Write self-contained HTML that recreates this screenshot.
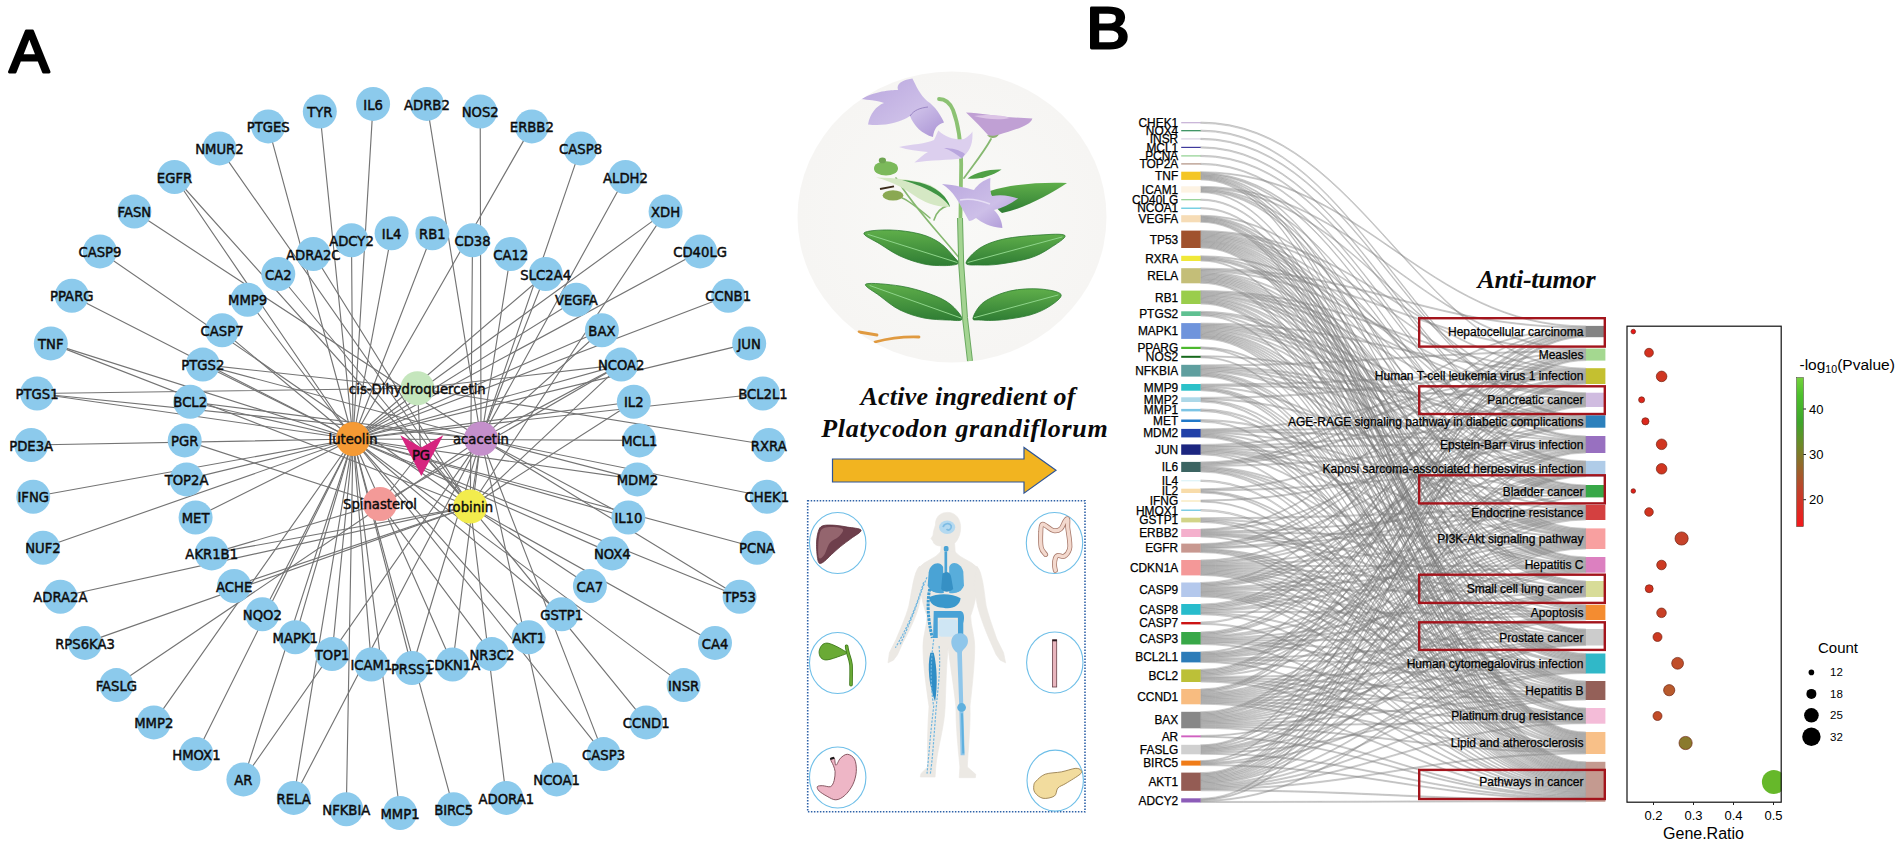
<!DOCTYPE html>
<html><head><meta charset="utf-8"><title>Figure</title>
<style>html,body{margin:0;padding:0;background:#fff;}svg{display:block}</style></head>
<body>
<svg width="1901" height="849" viewBox="0 0 1901 849">
<rect width="1901" height="849" fill="#fff"/>
<g id="network">
<g stroke="#747474" stroke-width="1.15" fill="none" stroke-linecap="round">
<line x1="353" y1="439" x2="400.0" y2="813.0"/>
<line x1="353" y1="439" x2="346.3" y2="809.2"/>
<line x1="353" y1="439" x2="293.7" y2="797.9"/>
<line x1="353" y1="439" x2="243.4" y2="779.4"/>
<line x1="353" y1="439" x2="196.4" y2="754.1"/>
<line x1="353" y1="439" x2="153.8" y2="722.4"/>
<line x1="353" y1="439" x2="43.0" y2="547.8"/>
<line x1="353" y1="439" x2="33.2" y2="496.8"/>
<line x1="353" y1="439" x2="31.2" y2="445.0"/>
<line x1="353" y1="439" x2="37.1" y2="393.5"/>
<line x1="353" y1="439" x2="50.8" y2="343.4"/>
<line x1="353" y1="439" x2="71.8" y2="295.7"/>
<line x1="353" y1="439" x2="174.5" y2="177.0"/>
<line x1="353" y1="439" x2="268.2" y2="126.4"/>
<line x1="353" y1="439" x2="319.8" y2="111.5"/>
<line x1="353" y1="439" x2="373.1" y2="103.9"/>
<line x1="353" y1="439" x2="531.8" y2="126.4"/>
<line x1="353" y1="439" x2="665.6" y2="211.6"/>
<line x1="353" y1="439" x2="700.1" y2="251.4"/>
<line x1="353" y1="439" x2="728.2" y2="295.7"/>
<line x1="353" y1="439" x2="749.2" y2="343.4"/>
<line x1="353" y1="439" x2="762.9" y2="393.5"/>
<line x1="353" y1="439" x2="757.0" y2="547.8"/>
<line x1="353" y1="439" x2="739.6" y2="596.8"/>
<line x1="353" y1="439" x2="683.6" y2="685.1"/>
<line x1="353" y1="439" x2="603.6" y2="754.1"/>
<line x1="353" y1="439" x2="453.7" y2="809.2"/>
<line x1="353" y1="439" x2="412.0" y2="668.0"/>
<line x1="353" y1="439" x2="371.4" y2="664.5"/>
<line x1="353" y1="439" x2="332.1" y2="654.1"/>
<line x1="353" y1="439" x2="295.3" y2="637.2"/>
<line x1="353" y1="439" x2="262.3" y2="614.2"/>
<line x1="353" y1="439" x2="195.6" y2="517.5"/>
<line x1="353" y1="439" x2="186.6" y2="479.4"/>
<line x1="353" y1="439" x2="190.2" y2="401.7"/>
<line x1="353" y1="439" x2="202.8" y2="364.6"/>
<line x1="353" y1="439" x2="222.1" y2="330.2"/>
<line x1="353" y1="439" x2="247.6" y2="299.7"/>
<line x1="353" y1="439" x2="351.5" y2="240.2"/>
<line x1="353" y1="439" x2="391.6" y2="233.3"/>
<line x1="353" y1="439" x2="432.4" y2="233.3"/>
<line x1="353" y1="439" x2="545.7" y2="274.0"/>
<line x1="353" y1="439" x2="576.4" y2="299.7"/>
<line x1="353" y1="439" x2="601.9" y2="330.2"/>
<line x1="353" y1="439" x2="621.2" y2="364.6"/>
<line x1="353" y1="439" x2="633.8" y2="401.7"/>
<line x1="353" y1="439" x2="639.3" y2="440.4"/>
<line x1="353" y1="439" x2="637.4" y2="479.4"/>
<line x1="353" y1="439" x2="628.4" y2="517.5"/>
<line x1="353" y1="439" x2="612.3" y2="553.4"/>
<line x1="353" y1="439" x2="561.7" y2="614.2"/>
<line x1="353" y1="439" x2="528.7" y2="637.2"/>
<line x1="353" y1="439" x2="452.6" y2="664.5"/>
<line x1="417.4" y1="388.3" x2="202.8" y2="364.6"/>
<line x1="417.4" y1="388.3" x2="621.2" y2="364.6"/>
<line x1="417.4" y1="388.3" x2="37.1" y2="393.5"/>
<line x1="417.4" y1="388.3" x2="768.8" y2="445.0"/>
<line x1="481" y1="438.8" x2="426.9" y2="103.9"/>
<line x1="481" y1="438.8" x2="480.2" y2="111.5"/>
<line x1="481" y1="438.8" x2="580.6" y2="148.4"/>
<line x1="481" y1="438.8" x2="625.5" y2="177.0"/>
<line x1="481" y1="438.8" x2="134.4" y2="211.6"/>
<line x1="481" y1="438.8" x2="545.7" y2="274.0"/>
<line x1="481" y1="438.8" x2="766.8" y2="496.8"/>
<line x1="481" y1="438.8" x2="556.6" y2="779.4"/>
<line x1="481" y1="438.8" x2="37.1" y2="393.5"/>
<line x1="481" y1="438.8" x2="202.8" y2="364.6"/>
<line x1="481" y1="438.8" x2="190.2" y2="401.7"/>
<line x1="481" y1="438.8" x2="116.4" y2="685.1"/>
<line x1="481" y1="438.8" x2="243.4" y2="779.4"/>
<line x1="481" y1="438.8" x2="293.7" y2="797.9"/>
<line x1="481" y1="438.8" x2="739.6" y2="596.8"/>
<line x1="481" y1="438.8" x2="603.6" y2="754.1"/>
<line x1="481" y1="438.8" x2="601.9" y2="330.2"/>
<line x1="481" y1="438.8" x2="621.2" y2="364.6"/>
<line x1="481" y1="438.8" x2="412.0" y2="668.0"/>
<line x1="481" y1="438.8" x2="452.6" y2="664.5"/>
<line x1="481" y1="438.8" x2="637.4" y2="479.4"/>
<line x1="481" y1="438.8" x2="628.4" y2="517.5"/>
<line x1="470.3" y1="506.5" x2="219.4" y2="148.4"/>
<line x1="470.3" y1="506.5" x2="99.9" y2="251.4"/>
<line x1="470.3" y1="506.5" x2="510.7" y2="254.0"/>
<line x1="470.3" y1="506.5" x2="278.3" y2="274.0"/>
<line x1="470.3" y1="506.5" x2="715.0" y2="642.9"/>
<line x1="470.3" y1="506.5" x2="589.9" y2="586.0"/>
<line x1="470.3" y1="506.5" x2="665.6" y2="211.6"/>
<line x1="470.3" y1="506.5" x2="313.3" y2="254.0"/>
<line x1="470.3" y1="506.5" x2="472.5" y2="240.2"/>
<line x1="470.3" y1="506.5" x2="85.0" y2="642.9"/>
<line x1="470.3" y1="506.5" x2="60.4" y2="596.8"/>
<line x1="470.3" y1="506.5" x2="50.8" y2="343.4"/>
<line x1="470.3" y1="506.5" x2="234.1" y2="586.0"/>
<line x1="470.3" y1="506.5" x2="211.7" y2="553.4"/>
<line x1="470.3" y1="506.5" x2="506.3" y2="797.9"/>
<line x1="470.3" y1="506.5" x2="646.2" y2="722.4"/>
<line x1="470.3" y1="506.5" x2="174.5" y2="177.0"/>
<line x1="470.3" y1="506.5" x2="621.2" y2="364.6"/>
<line x1="470.3" y1="506.5" x2="633.8" y2="401.7"/>
<line x1="380" y1="504" x2="491.9" y2="654.1"/>
<line x1="380" y1="504" x2="184.7" y2="440.4"/>
<line x1="380" y1="504" x2="621.2" y2="364.6"/>
<line x1="380" y1="504" x2="211.7" y2="553.4"/>
<line x1="420.7" y1="452" x2="353" y2="439"/>
<line x1="420.7" y1="452" x2="417.4" y2="388.3"/>
<line x1="420.7" y1="452" x2="481" y2="438.8"/>
<line x1="420.7" y1="452" x2="470.3" y2="506.5"/>
<line x1="420.7" y1="452" x2="380" y2="504"/>
</g>
<circle cx="353" cy="439" r="17" fill="#f59a34"/>
<circle cx="417.4" cy="388.3" r="17" fill="#c5e6bd"/>
<circle cx="481" cy="438.8" r="17" fill="#c48fcb"/>
<circle cx="470.3" cy="506.5" r="17" fill="#f2ec4d"/>
<circle cx="380" cy="504" r="17" fill="#f39a98"/>
<path d="M400.3 435.3 L421.3 447.6 L443.3 435.3 L421.3 476.1 Z" fill="#d6257f"/>
<g font-family="'DejaVu Sans','Liberation Sans',sans-serif" font-size="13.2" text-anchor="middle" fill="#0c0c0c" stroke="#0c0c0c" stroke-width="0.45">
<circle cx="452.6" cy="664.5" r="17" fill="#8ccaec" stroke="none"/><text x="452.6" y="670.1">CDKN1A</text>
<circle cx="313.3" cy="254.0" r="17" fill="#8ccaec" stroke="none"/><text x="313.3" y="259.6">ADRA2C</text>
<circle cx="400.0" cy="813.0" r="17" fill="#8ccaec" stroke="none"/><text x="400.0" y="818.6">MMP1</text>
<circle cx="346.3" cy="809.2" r="17" fill="#8ccaec" stroke="none"/><text x="346.3" y="814.8">NFKBIA</text>
<circle cx="293.7" cy="797.9" r="17" fill="#8ccaec" stroke="none"/><text x="293.7" y="803.5">RELA</text>
<circle cx="243.4" cy="779.4" r="17" fill="#8ccaec" stroke="none"/><text x="243.4" y="785.0">AR</text>
<circle cx="196.4" cy="754.1" r="17" fill="#8ccaec" stroke="none"/><text x="196.4" y="759.7">HMOX1</text>
<circle cx="153.8" cy="722.4" r="17" fill="#8ccaec" stroke="none"/><text x="153.8" y="728.0">MMP2</text>
<circle cx="116.4" cy="685.1" r="17" fill="#8ccaec" stroke="none"/><text x="116.4" y="690.7">FASLG</text>
<circle cx="85.0" cy="642.9" r="17" fill="#8ccaec" stroke="none"/><text x="85.0" y="648.5">RPS6KA3</text>
<circle cx="60.4" cy="596.8" r="17" fill="#8ccaec" stroke="none"/><text x="60.4" y="602.4">ADRA2A</text>
<circle cx="43.0" cy="547.8" r="17" fill="#8ccaec" stroke="none"/><text x="43.0" y="553.4">NUF2</text>
<circle cx="33.2" cy="496.8" r="17" fill="#8ccaec" stroke="none"/><text x="33.2" y="502.4">IFNG</text>
<circle cx="31.2" cy="445.0" r="17" fill="#8ccaec" stroke="none"/><text x="31.2" y="450.6">PDE3A</text>
<circle cx="37.1" cy="393.5" r="17" fill="#8ccaec" stroke="none"/><text x="37.1" y="399.1">PTGS1</text>
<circle cx="50.8" cy="343.4" r="17" fill="#8ccaec" stroke="none"/><text x="50.8" y="349.0">TNF</text>
<circle cx="71.8" cy="295.7" r="17" fill="#8ccaec" stroke="none"/><text x="71.8" y="301.3">PPARG</text>
<circle cx="99.9" cy="251.4" r="17" fill="#8ccaec" stroke="none"/><text x="99.9" y="257.0">CASP9</text>
<circle cx="134.4" cy="211.6" r="17" fill="#8ccaec" stroke="none"/><text x="134.4" y="217.2">FASN</text>
<circle cx="174.5" cy="177.0" r="17" fill="#8ccaec" stroke="none"/><text x="174.5" y="182.6">EGFR</text>
<circle cx="219.4" cy="148.4" r="17" fill="#8ccaec" stroke="none"/><text x="219.4" y="154.0">NMUR2</text>
<circle cx="268.2" cy="126.4" r="17" fill="#8ccaec" stroke="none"/><text x="268.2" y="132.0">PTGES</text>
<circle cx="319.8" cy="111.5" r="17" fill="#8ccaec" stroke="none"/><text x="319.8" y="117.1">TYR</text>
<circle cx="373.1" cy="103.9" r="17" fill="#8ccaec" stroke="none"/><text x="373.1" y="109.5">IL6</text>
<circle cx="426.9" cy="103.9" r="17" fill="#8ccaec" stroke="none"/><text x="426.9" y="109.5">ADRB2</text>
<circle cx="480.2" cy="111.5" r="17" fill="#8ccaec" stroke="none"/><text x="480.2" y="117.1">NOS2</text>
<circle cx="531.8" cy="126.4" r="17" fill="#8ccaec" stroke="none"/><text x="531.8" y="132.0">ERBB2</text>
<circle cx="580.6" cy="148.4" r="17" fill="#8ccaec" stroke="none"/><text x="580.6" y="154.0">CASP8</text>
<circle cx="625.5" cy="177.0" r="17" fill="#8ccaec" stroke="none"/><text x="625.5" y="182.6">ALDH2</text>
<circle cx="665.6" cy="211.6" r="17" fill="#8ccaec" stroke="none"/><text x="665.6" y="217.2">XDH</text>
<circle cx="700.1" cy="251.4" r="17" fill="#8ccaec" stroke="none"/><text x="700.1" y="257.0">CD40LG</text>
<circle cx="728.2" cy="295.7" r="17" fill="#8ccaec" stroke="none"/><text x="728.2" y="301.3">CCNB1</text>
<circle cx="749.2" cy="343.4" r="17" fill="#8ccaec" stroke="none"/><text x="749.2" y="349.0">JUN</text>
<circle cx="762.9" cy="393.5" r="17" fill="#8ccaec" stroke="none"/><text x="762.9" y="399.1">BCL2L1</text>
<circle cx="768.8" cy="445.0" r="17" fill="#8ccaec" stroke="none"/><text x="768.8" y="450.6">RXRA</text>
<circle cx="766.8" cy="496.8" r="17" fill="#8ccaec" stroke="none"/><text x="766.8" y="502.4">CHEK1</text>
<circle cx="757.0" cy="547.8" r="17" fill="#8ccaec" stroke="none"/><text x="757.0" y="553.4">PCNA</text>
<circle cx="739.6" cy="596.8" r="17" fill="#8ccaec" stroke="none"/><text x="739.6" y="602.4">TP53</text>
<circle cx="715.0" cy="642.9" r="17" fill="#8ccaec" stroke="none"/><text x="715.0" y="648.5">CA4</text>
<circle cx="683.6" cy="685.1" r="17" fill="#8ccaec" stroke="none"/><text x="683.6" y="690.7">INSR</text>
<circle cx="646.2" cy="722.4" r="17" fill="#8ccaec" stroke="none"/><text x="646.2" y="728.0">CCND1</text>
<circle cx="603.6" cy="754.1" r="17" fill="#8ccaec" stroke="none"/><text x="603.6" y="759.7">CASP3</text>
<circle cx="556.6" cy="779.4" r="17" fill="#8ccaec" stroke="none"/><text x="556.6" y="785.0">NCOA1</text>
<circle cx="506.3" cy="797.9" r="17" fill="#8ccaec" stroke="none"/><text x="506.3" y="803.5">ADORA1</text>
<circle cx="453.7" cy="809.2" r="17" fill="#8ccaec" stroke="none"/><text x="453.7" y="814.8">BIRC5</text>
<circle cx="412.0" cy="668.0" r="17" fill="#8ccaec" stroke="none"/><text x="412.0" y="673.6">PRSS1</text>
<circle cx="371.4" cy="664.5" r="17" fill="#8ccaec" stroke="none"/><text x="371.4" y="670.1">ICAM1</text>
<circle cx="332.1" cy="654.1" r="17" fill="#8ccaec" stroke="none"/><text x="332.1" y="659.7">TOP1</text>
<circle cx="295.3" cy="637.2" r="17" fill="#8ccaec" stroke="none"/><text x="295.3" y="642.8">MAPK1</text>
<circle cx="262.3" cy="614.2" r="17" fill="#8ccaec" stroke="none"/><text x="262.3" y="619.8">NQO2</text>
<circle cx="234.1" cy="586.0" r="17" fill="#8ccaec" stroke="none"/><text x="234.1" y="591.6">ACHE</text>
<circle cx="211.7" cy="553.4" r="17" fill="#8ccaec" stroke="none"/><text x="211.7" y="559.0">AKR1B1</text>
<circle cx="195.6" cy="517.5" r="17" fill="#8ccaec" stroke="none"/><text x="195.6" y="523.1">MET</text>
<circle cx="186.6" cy="479.4" r="17" fill="#8ccaec" stroke="none"/><text x="186.6" y="485.0">TOP2A</text>
<circle cx="184.7" cy="440.4" r="17" fill="#8ccaec" stroke="none"/><text x="184.7" y="446.0">PGR</text>
<circle cx="190.2" cy="401.7" r="17" fill="#8ccaec" stroke="none"/><text x="190.2" y="407.3">BCL2</text>
<circle cx="202.8" cy="364.6" r="17" fill="#8ccaec" stroke="none"/><text x="202.8" y="370.2">PTGS2</text>
<circle cx="222.1" cy="330.2" r="17" fill="#8ccaec" stroke="none"/><text x="222.1" y="335.8">CASP7</text>
<circle cx="247.6" cy="299.7" r="17" fill="#8ccaec" stroke="none"/><text x="247.6" y="305.3">MMP9</text>
<circle cx="278.3" cy="274.0" r="17" fill="#8ccaec" stroke="none"/><text x="278.3" y="279.6">CA2</text>
<circle cx="351.5" cy="240.2" r="17" fill="#8ccaec" stroke="none"/><text x="351.5" y="245.8">ADCY2</text>
<circle cx="391.6" cy="233.3" r="17" fill="#8ccaec" stroke="none"/><text x="391.6" y="238.9">IL4</text>
<circle cx="432.4" cy="233.3" r="17" fill="#8ccaec" stroke="none"/><text x="432.4" y="238.9">RB1</text>
<circle cx="472.5" cy="240.2" r="17" fill="#8ccaec" stroke="none"/><text x="472.5" y="245.8">CD38</text>
<circle cx="510.7" cy="254.0" r="17" fill="#8ccaec" stroke="none"/><text x="510.7" y="259.6">CA12</text>
<circle cx="545.7" cy="274.0" r="17" fill="#8ccaec" stroke="none"/><text x="545.7" y="279.6">SLC2A4</text>
<circle cx="576.4" cy="299.7" r="17" fill="#8ccaec" stroke="none"/><text x="576.4" y="305.3">VEGFA</text>
<circle cx="601.9" cy="330.2" r="17" fill="#8ccaec" stroke="none"/><text x="601.9" y="335.8">BAX</text>
<circle cx="621.2" cy="364.6" r="17" fill="#8ccaec" stroke="none"/><text x="621.2" y="370.2">NCOA2</text>
<circle cx="633.8" cy="401.7" r="17" fill="#8ccaec" stroke="none"/><text x="633.8" y="407.3">IL2</text>
<circle cx="639.3" cy="440.4" r="17" fill="#8ccaec" stroke="none"/><text x="639.3" y="446.0">MCL1</text>
<circle cx="637.4" cy="479.4" r="17" fill="#8ccaec" stroke="none"/><text x="637.4" y="485.0">MDM2</text>
<circle cx="628.4" cy="517.5" r="17" fill="#8ccaec" stroke="none"/><text x="628.4" y="523.1">IL10</text>
<circle cx="612.3" cy="553.4" r="17" fill="#8ccaec" stroke="none"/><text x="612.3" y="559.0">NOX4</text>
<circle cx="589.9" cy="586.0" r="17" fill="#8ccaec" stroke="none"/><text x="589.9" y="591.6">CA7</text>
<circle cx="561.7" cy="614.2" r="17" fill="#8ccaec" stroke="none"/><text x="561.7" y="619.8">GSTP1</text>
<circle cx="528.7" cy="637.2" r="17" fill="#8ccaec" stroke="none"/><text x="528.7" y="642.8">AKT1</text>
<circle cx="491.9" cy="654.1" r="17" fill="#8ccaec" stroke="none"/><text x="491.9" y="659.7">NR3C2</text>
<text x="353" y="444.4">luteolin</text>
<text x="417.4" y="393.7">cis-Dihydroquercetin</text>
<text x="481" y="444.2">acacetin</text>
<text x="470.3" y="511.9">robinin</text>
<text x="380" y="509.4">Spinasterol</text>
<text x="421" y="459.5">PG</text>
</g>
</g>
<g id="sankey">
<g fill="#a8a8a8" fill-opacity="0.32" stroke="#6a6a6a" stroke-opacity="0.82" stroke-width="0.38">
<path d="M1200.6 122.10C1362.4 122.10 1424.0 368.20 1585.8 368.20L1585.8 368.20L1585.8 369.25L1585.8 369.25C1424.0 369.25 1362.4 123.30 1200.6 123.30Z"/>
<path d="M1200.6 130.10C1362.4 130.10 1424.0 415.30 1585.8 415.30L1585.8 415.30L1585.8 416.33L1585.8 416.33C1424.0 416.33 1362.4 131.30 1200.6 131.30Z"/>
<path d="M1200.6 138.30C1362.4 138.30 1424.0 416.33 1585.8 416.33L1585.8 416.33L1585.8 417.37L1585.8 417.37C1424.0 417.37 1362.4 139.50 1200.6 139.50Z"/>
<path d="M1200.6 146.80C1362.4 146.80 1424.0 436.00 1585.8 436.00L1585.8 436.00L1585.8 437.06L1585.8 437.06C1424.0 437.06 1362.4 148.00 1200.6 148.00Z"/>
<path d="M1200.6 155.30C1362.4 155.30 1424.0 437.06 1585.8 437.06L1585.8 437.06L1585.8 438.12L1585.8 438.12C1424.0 438.12 1362.4 156.50 1200.6 156.50Z"/>
<path d="M1200.6 163.30C1362.4 163.30 1424.0 460.90 1585.8 460.90L1585.8 460.90L1585.8 461.95L1585.8 461.95C1424.0 461.95 1362.4 164.50 1200.6 164.50Z"/>
<path d="M1200.6 171.70C1362.4 171.70 1424.0 325.90 1585.8 325.90L1585.8 325.90L1585.8 326.93L1585.8 326.93C1424.0 326.93 1362.4 172.72 1200.6 172.72Z"/>
<path d="M1200.6 172.72C1362.4 172.72 1424.0 461.95 1585.8 461.95L1585.8 461.95L1585.8 463.01L1585.8 463.01C1424.0 463.01 1362.4 173.75 1200.6 173.75Z"/>
<path d="M1200.6 173.75C1362.4 173.75 1424.0 485.00 1585.8 485.00L1585.8 485.00L1585.8 486.03L1585.8 486.03C1424.0 486.03 1362.4 174.78 1200.6 174.78Z"/>
<path d="M1200.6 174.78C1362.4 174.78 1424.0 557.00 1585.8 557.00L1585.8 557.00L1585.8 558.05L1585.8 558.05C1424.0 558.05 1362.4 175.80 1200.6 175.80Z"/>
<path d="M1200.6 175.80C1362.4 175.80 1424.0 604.80 1585.8 604.80L1585.8 604.80L1585.8 605.89L1585.8 605.89C1424.0 605.89 1362.4 176.83 1200.6 176.83Z"/>
<path d="M1200.6 176.82C1362.4 176.82 1424.0 653.50 1585.8 653.50L1585.8 653.50L1585.8 654.55L1585.8 654.55C1424.0 654.55 1362.4 177.85 1200.6 177.85Z"/>
<path d="M1200.6 177.85C1362.4 177.85 1424.0 681.00 1585.8 681.00L1585.8 681.00L1585.8 682.06L1585.8 682.06C1424.0 682.06 1362.4 178.88 1200.6 178.88Z"/>
<path d="M1200.6 178.88C1362.4 178.88 1424.0 732.00 1585.8 732.00L1585.8 732.00L1585.8 733.05L1585.8 733.05C1424.0 733.05 1362.4 179.90 1200.6 179.90Z"/>
<path d="M1200.6 186.30C1362.4 186.30 1424.0 348.60 1585.8 348.60L1585.8 348.60L1585.8 349.69L1585.8 349.69C1424.0 349.69 1362.4 187.35 1200.6 187.35Z"/>
<path d="M1200.6 187.35C1362.4 187.35 1424.0 392.70 1585.8 392.70L1585.8 392.70L1585.8 393.72L1585.8 393.72C1424.0 393.72 1362.4 188.40 1200.6 188.40Z"/>
<path d="M1200.6 188.40C1362.4 188.40 1424.0 486.03 1585.8 486.03L1585.8 486.03L1585.8 487.07L1585.8 487.07C1424.0 487.07 1362.4 189.45 1200.6 189.45Z"/>
<path d="M1200.6 189.45C1362.4 189.45 1424.0 528.40 1585.8 528.40L1585.8 528.40L1585.8 529.43L1585.8 529.43C1424.0 529.43 1362.4 190.50 1200.6 190.50Z"/>
<path d="M1200.6 190.50C1362.4 190.50 1424.0 558.05 1585.8 558.05L1585.8 558.05L1585.8 559.09L1585.8 559.09C1424.0 559.09 1362.4 191.55 1200.6 191.55Z"/>
<path d="M1200.6 191.55C1362.4 191.55 1424.0 733.05 1585.8 733.05L1585.8 733.05L1585.8 734.10L1585.8 734.10C1424.0 734.10 1362.4 192.60 1200.6 192.60Z"/>
<path d="M1200.6 199.10C1362.4 199.10 1424.0 734.10 1585.8 734.10L1585.8 734.10L1585.8 735.14L1585.8 735.14C1424.0 735.14 1362.4 200.30 1200.6 200.30Z"/>
<path d="M1200.6 207.60C1362.4 207.60 1424.0 735.14 1585.8 735.14L1585.8 735.14L1585.8 736.19L1585.8 736.19C1424.0 736.19 1362.4 208.80 1200.6 208.80Z"/>
<path d="M1200.6 215.20C1362.4 215.20 1424.0 463.01 1585.8 463.01L1585.8 463.01L1585.8 464.06L1585.8 464.06C1424.0 464.06 1362.4 216.21 1200.6 216.21Z"/>
<path d="M1200.6 216.21C1362.4 216.21 1424.0 581.00 1585.8 581.00L1585.8 581.00L1585.8 582.07L1585.8 582.07C1424.0 582.07 1362.4 217.23 1200.6 217.23Z"/>
<path d="M1200.6 217.23C1362.4 217.23 1424.0 629.00 1585.8 629.00L1585.8 629.00L1585.8 630.03L1585.8 630.03C1424.0 630.03 1362.4 218.24 1200.6 218.24Z"/>
<path d="M1200.6 218.24C1362.4 218.24 1424.0 654.55 1585.8 654.55L1585.8 654.55L1585.8 655.61L1585.8 655.61C1424.0 655.61 1362.4 219.26 1200.6 219.26Z"/>
<path d="M1200.6 219.26C1362.4 219.26 1424.0 708.00 1585.8 708.00L1585.8 708.00L1585.8 709.05L1585.8 709.05C1424.0 709.05 1362.4 220.27 1200.6 220.27Z"/>
<path d="M1200.6 220.27C1362.4 220.27 1424.0 736.19 1585.8 736.19L1585.8 736.19L1585.8 737.24L1585.8 737.24C1424.0 737.24 1362.4 221.29 1200.6 221.29Z"/>
<path d="M1200.6 221.29C1362.4 221.29 1424.0 761.80 1585.8 761.80L1585.8 761.80L1585.8 762.85L1585.8 762.85C1424.0 762.85 1362.4 222.30 1200.6 222.30Z"/>
<path d="M1200.6 230.60C1362.4 230.60 1424.0 369.25 1585.8 369.25L1585.8 369.25L1585.8 370.31L1585.8 370.31C1424.0 370.31 1362.4 231.69 1200.6 231.69Z"/>
<path d="M1200.6 231.69C1362.4 231.69 1424.0 393.72 1585.8 393.72L1585.8 393.72L1585.8 394.74L1585.8 394.74C1424.0 394.74 1362.4 232.78 1200.6 232.78Z"/>
<path d="M1200.6 232.78C1362.4 232.78 1424.0 438.12 1585.8 438.12L1585.8 438.12L1585.8 439.19L1585.8 439.19C1424.0 439.19 1362.4 233.86 1200.6 233.86Z"/>
<path d="M1200.6 233.86C1362.4 233.86 1424.0 464.06 1585.8 464.06L1585.8 464.06L1585.8 465.11L1585.8 465.11C1424.0 465.11 1362.4 234.95 1200.6 234.95Z"/>
<path d="M1200.6 234.95C1362.4 234.95 1424.0 487.07 1585.8 487.07L1585.8 487.07L1585.8 488.10L1585.8 488.10C1424.0 488.10 1362.4 236.04 1200.6 236.04Z"/>
<path d="M1200.6 236.04C1362.4 236.04 1424.0 505.00 1585.8 505.00L1585.8 505.00L1585.8 506.07L1585.8 506.07C1424.0 506.07 1362.4 237.12 1200.6 237.12Z"/>
<path d="M1200.6 237.12C1362.4 237.12 1424.0 529.43 1585.8 529.43L1585.8 529.43L1585.8 530.46L1585.8 530.46C1424.0 530.46 1362.4 238.21 1200.6 238.21Z"/>
<path d="M1200.6 238.21C1362.4 238.21 1424.0 559.09 1585.8 559.09L1585.8 559.09L1585.8 560.14L1585.8 560.14C1424.0 560.14 1362.4 239.30 1200.6 239.30Z"/>
<path d="M1200.6 239.30C1362.4 239.30 1424.0 582.07 1585.8 582.07L1585.8 582.07L1585.8 583.13L1585.8 583.13C1424.0 583.13 1362.4 240.39 1200.6 240.39Z"/>
<path d="M1200.6 240.39C1362.4 240.39 1424.0 605.89 1585.8 605.89L1585.8 605.89L1585.8 606.97L1585.8 606.97C1424.0 606.97 1362.4 241.47 1200.6 241.47Z"/>
<path d="M1200.6 241.47C1362.4 241.47 1424.0 630.03 1585.8 630.03L1585.8 630.03L1585.8 631.06L1585.8 631.06C1424.0 631.06 1362.4 242.56 1200.6 242.56Z"/>
<path d="M1200.6 242.56C1362.4 242.56 1424.0 655.61 1585.8 655.61L1585.8 655.61L1585.8 656.66L1585.8 656.66C1424.0 656.66 1362.4 243.65 1200.6 243.65Z"/>
<path d="M1200.6 243.65C1362.4 243.65 1424.0 682.06 1585.8 682.06L1585.8 682.06L1585.8 683.11L1585.8 683.11C1424.0 683.11 1362.4 244.74 1200.6 244.74Z"/>
<path d="M1200.6 244.74C1362.4 244.74 1424.0 709.05 1585.8 709.05L1585.8 709.05L1585.8 710.09L1585.8 710.09C1424.0 710.09 1362.4 245.83 1200.6 245.83Z"/>
<path d="M1200.6 245.82C1362.4 245.82 1424.0 737.24 1585.8 737.24L1585.8 737.24L1585.8 738.29L1585.8 738.29C1424.0 738.29 1362.4 246.91 1200.6 246.91Z"/>
<path d="M1200.6 246.91C1362.4 246.91 1424.0 762.85 1585.8 762.85L1585.8 762.85L1585.8 763.91L1585.8 763.91C1424.0 763.91 1362.4 248.00 1200.6 248.00Z"/>
<path d="M1200.6 255.80C1362.4 255.80 1424.0 417.37 1585.8 417.37L1585.8 417.37L1585.8 418.40L1585.8 418.40C1424.0 418.40 1362.4 256.84 1200.6 256.84Z"/>
<path d="M1200.6 256.84C1362.4 256.84 1424.0 506.07 1585.8 506.07L1585.8 506.07L1585.8 507.14L1585.8 507.14C1424.0 507.14 1362.4 257.88 1200.6 257.88Z"/>
<path d="M1200.6 257.88C1362.4 257.88 1424.0 560.14 1585.8 560.14L1585.8 560.14L1585.8 561.19L1585.8 561.19C1424.0 561.19 1362.4 258.92 1200.6 258.92Z"/>
<path d="M1200.6 258.92C1362.4 258.92 1424.0 583.13 1585.8 583.13L1585.8 583.13L1585.8 584.20L1585.8 584.20C1424.0 584.20 1362.4 259.96 1200.6 259.96Z"/>
<path d="M1200.6 259.96C1362.4 259.96 1424.0 763.91 1585.8 763.91L1585.8 763.91L1585.8 764.96L1585.8 764.96C1424.0 764.96 1362.4 261.00 1200.6 261.00Z"/>
<path d="M1200.6 268.20C1362.4 268.20 1424.0 326.93 1585.8 326.93L1585.8 326.93L1585.8 327.95L1585.8 327.95C1424.0 327.95 1362.4 269.36 1200.6 269.36Z"/>
<path d="M1200.6 269.36C1362.4 269.36 1424.0 349.69 1585.8 349.69L1585.8 349.69L1585.8 350.78L1585.8 350.78C1424.0 350.78 1362.4 270.52 1200.6 270.52Z"/>
<path d="M1200.6 270.52C1362.4 270.52 1424.0 394.74 1585.8 394.74L1585.8 394.74L1585.8 395.76L1585.8 395.76C1424.0 395.76 1362.4 271.68 1200.6 271.68Z"/>
<path d="M1200.6 271.68C1362.4 271.68 1424.0 488.10 1585.8 488.10L1585.8 488.10L1585.8 489.13L1585.8 489.13C1424.0 489.13 1362.4 272.85 1200.6 272.85Z"/>
<path d="M1200.6 272.85C1362.4 272.85 1424.0 530.46 1585.8 530.46L1585.8 530.46L1585.8 531.49L1585.8 531.49C1424.0 531.49 1362.4 274.01 1200.6 274.01Z"/>
<path d="M1200.6 274.01C1362.4 274.01 1424.0 561.19 1585.8 561.19L1585.8 561.19L1585.8 562.23L1585.8 562.23C1424.0 562.23 1362.4 275.17 1200.6 275.17Z"/>
<path d="M1200.6 275.17C1362.4 275.17 1424.0 584.20 1585.8 584.20L1585.8 584.20L1585.8 585.27L1585.8 585.27C1424.0 585.27 1362.4 276.33 1200.6 276.33Z"/>
<path d="M1200.6 276.33C1362.4 276.33 1424.0 606.97 1585.8 606.97L1585.8 606.97L1585.8 608.06L1585.8 608.06C1424.0 608.06 1362.4 277.49 1200.6 277.49Z"/>
<path d="M1200.6 277.49C1362.4 277.49 1424.0 631.06 1585.8 631.06L1585.8 631.06L1585.8 632.09L1585.8 632.09C1424.0 632.09 1362.4 278.65 1200.6 278.65Z"/>
<path d="M1200.6 278.65C1362.4 278.65 1424.0 656.66 1585.8 656.66L1585.8 656.66L1585.8 657.71L1585.8 657.71C1424.0 657.71 1362.4 279.82 1200.6 279.82Z"/>
<path d="M1200.6 279.82C1362.4 279.82 1424.0 683.11 1585.8 683.11L1585.8 683.11L1585.8 684.17L1585.8 684.17C1424.0 684.17 1362.4 280.98 1200.6 280.98Z"/>
<path d="M1200.6 280.98C1362.4 280.98 1424.0 738.29 1585.8 738.29L1585.8 738.29L1585.8 739.33L1585.8 739.33C1424.0 739.33 1362.4 282.14 1200.6 282.14Z"/>
<path d="M1200.6 282.14C1362.4 282.14 1424.0 764.96 1585.8 764.96L1585.8 764.96L1585.8 766.01L1585.8 766.01C1424.0 766.01 1362.4 283.30 1200.6 283.30Z"/>
<path d="M1200.6 290.60C1362.4 290.60 1424.0 370.31 1585.8 370.31L1585.8 370.31L1585.8 371.36L1585.8 371.36C1424.0 371.36 1362.4 291.72 1200.6 291.72Z"/>
<path d="M1200.6 291.72C1362.4 291.72 1424.0 395.76 1585.8 395.76L1585.8 395.76L1585.8 396.79L1585.8 396.79C1424.0 396.79 1362.4 292.83 1200.6 292.83Z"/>
<path d="M1200.6 292.83C1362.4 292.83 1424.0 418.40 1585.8 418.40L1585.8 418.40L1585.8 419.43L1585.8 419.43C1424.0 419.43 1362.4 293.95 1200.6 293.95Z"/>
<path d="M1200.6 293.95C1362.4 293.95 1424.0 465.11 1585.8 465.11L1585.8 465.11L1585.8 466.17L1585.8 466.17C1424.0 466.17 1362.4 295.07 1200.6 295.07Z"/>
<path d="M1200.6 295.07C1362.4 295.07 1424.0 489.13 1585.8 489.13L1585.8 489.13L1585.8 490.17L1585.8 490.17C1424.0 490.17 1362.4 296.18 1200.6 296.18Z"/>
<path d="M1200.6 296.18C1362.4 296.18 1424.0 531.49 1585.8 531.49L1585.8 531.49L1585.8 532.52L1585.8 532.52C1424.0 532.52 1362.4 297.30 1200.6 297.30Z"/>
<path d="M1200.6 297.30C1362.4 297.30 1424.0 585.27 1585.8 585.27L1585.8 585.27L1585.8 586.33L1585.8 586.33C1424.0 586.33 1362.4 298.42 1200.6 298.42Z"/>
<path d="M1200.6 298.42C1362.4 298.42 1424.0 608.06 1585.8 608.06L1585.8 608.06L1585.8 609.14L1585.8 609.14C1424.0 609.14 1362.4 299.53 1200.6 299.53Z"/>
<path d="M1200.6 299.53C1362.4 299.53 1424.0 657.71 1585.8 657.71L1585.8 657.71L1585.8 658.76L1585.8 658.76C1424.0 658.76 1362.4 300.65 1200.6 300.65Z"/>
<path d="M1200.6 300.65C1362.4 300.65 1424.0 684.17 1585.8 684.17L1585.8 684.17L1585.8 685.22L1585.8 685.22C1424.0 685.22 1362.4 301.77 1200.6 301.77Z"/>
<path d="M1200.6 301.77C1362.4 301.77 1424.0 739.33 1585.8 739.33L1585.8 739.33L1585.8 740.38L1585.8 740.38C1424.0 740.38 1362.4 302.88 1200.6 302.88Z"/>
<path d="M1200.6 302.88C1362.4 302.88 1424.0 766.01 1585.8 766.01L1585.8 766.01L1585.8 767.06L1585.8 767.06C1424.0 767.06 1362.4 304.00 1200.6 304.00Z"/>
<path d="M1200.6 311.30C1362.4 311.30 1424.0 490.17 1585.8 490.17L1585.8 490.17L1585.8 491.20L1585.8 491.20C1424.0 491.20 1362.4 312.48 1200.6 312.48Z"/>
<path d="M1200.6 312.48C1362.4 312.48 1424.0 532.52 1585.8 532.52L1585.8 532.52L1585.8 533.55L1585.8 533.55C1424.0 533.55 1362.4 313.65 1200.6 313.65Z"/>
<path d="M1200.6 313.65C1362.4 313.65 1424.0 632.09 1585.8 632.09L1585.8 632.09L1585.8 633.12L1585.8 633.12C1424.0 633.12 1362.4 314.82 1200.6 314.82Z"/>
<path d="M1200.6 314.82C1362.4 314.82 1424.0 767.06 1585.8 767.06L1585.8 767.06L1585.8 768.12L1585.8 768.12C1424.0 768.12 1362.4 316.00 1200.6 316.00Z"/>
<path d="M1200.6 323.10C1362.4 323.10 1424.0 371.36 1585.8 371.36L1585.8 371.36L1585.8 372.41L1585.8 372.41C1424.0 372.41 1362.4 324.23 1200.6 324.23Z"/>
<path d="M1200.6 324.23C1362.4 324.23 1424.0 419.43 1585.8 419.43L1585.8 419.43L1585.8 420.47L1585.8 420.47C1424.0 420.47 1362.4 325.36 1200.6 325.36Z"/>
<path d="M1200.6 325.36C1362.4 325.36 1424.0 439.19 1585.8 439.19L1585.8 439.19L1585.8 440.25L1585.8 440.25C1424.0 440.25 1362.4 326.49 1200.6 326.49Z"/>
<path d="M1200.6 326.49C1362.4 326.49 1424.0 466.17 1585.8 466.17L1585.8 466.17L1585.8 467.22L1585.8 467.22C1424.0 467.22 1362.4 327.61 1200.6 327.61Z"/>
<path d="M1200.6 327.61C1362.4 327.61 1424.0 491.20 1585.8 491.20L1585.8 491.20L1585.8 492.23L1585.8 492.23C1424.0 492.23 1362.4 328.74 1200.6 328.74Z"/>
<path d="M1200.6 328.74C1362.4 328.74 1424.0 533.55 1585.8 533.55L1585.8 533.55L1585.8 534.58L1585.8 534.58C1424.0 534.58 1362.4 329.87 1200.6 329.87Z"/>
<path d="M1200.6 329.87C1362.4 329.87 1424.0 562.23 1585.8 562.23L1585.8 562.23L1585.8 563.28L1585.8 563.28C1424.0 563.28 1362.4 331.00 1200.6 331.00Z"/>
<path d="M1200.6 331.00C1362.4 331.00 1424.0 609.14 1585.8 609.14L1585.8 609.14L1585.8 610.23L1585.8 610.23C1424.0 610.23 1362.4 332.13 1200.6 332.13Z"/>
<path d="M1200.6 332.13C1362.4 332.13 1424.0 633.12 1585.8 633.12L1585.8 633.12L1585.8 634.16L1585.8 634.16C1424.0 634.16 1362.4 333.26 1200.6 333.26Z"/>
<path d="M1200.6 333.26C1362.4 333.26 1424.0 658.76 1585.8 658.76L1585.8 658.76L1585.8 659.82L1585.8 659.82C1424.0 659.82 1362.4 334.39 1200.6 334.39Z"/>
<path d="M1200.6 334.39C1362.4 334.39 1424.0 685.22 1585.8 685.22L1585.8 685.22L1585.8 686.28L1585.8 686.28C1424.0 686.28 1362.4 335.51 1200.6 335.51Z"/>
<path d="M1200.6 335.51C1362.4 335.51 1424.0 710.09 1585.8 710.09L1585.8 710.09L1585.8 711.14L1585.8 711.14C1424.0 711.14 1362.4 336.64 1200.6 336.64Z"/>
<path d="M1200.6 336.64C1362.4 336.64 1424.0 740.38 1585.8 740.38L1585.8 740.38L1585.8 741.43L1585.8 741.43C1424.0 741.43 1362.4 337.77 1200.6 337.77Z"/>
<path d="M1200.6 337.77C1362.4 337.77 1424.0 768.12 1585.8 768.12L1585.8 768.12L1585.8 769.17L1585.8 769.17C1424.0 769.17 1362.4 338.90 1200.6 338.90Z"/>
<path d="M1200.6 346.80C1362.4 346.80 1424.0 659.82 1585.8 659.82L1585.8 659.82L1585.8 660.87L1585.8 660.87C1424.0 660.87 1362.4 347.90 1200.6 347.90Z"/>
<path d="M1200.6 347.90C1362.4 347.90 1424.0 769.17 1585.8 769.17L1585.8 769.17L1585.8 770.22L1585.8 770.22C1424.0 770.22 1362.4 349.00 1200.6 349.00Z"/>
<path d="M1200.6 355.80C1362.4 355.80 1424.0 420.47 1585.8 420.47L1585.8 420.47L1585.8 421.50L1585.8 421.50C1424.0 421.50 1362.4 356.80 1200.6 356.80Z"/>
<path d="M1200.6 356.80C1362.4 356.80 1424.0 770.22 1585.8 770.22L1585.8 770.22L1585.8 771.27L1585.8 771.27C1424.0 771.27 1362.4 357.80 1200.6 357.80Z"/>
<path d="M1200.6 364.80C1362.4 364.80 1424.0 350.78 1585.8 350.78L1585.8 350.78L1585.8 351.87L1585.8 351.87C1424.0 351.87 1362.4 365.98 1200.6 365.98Z"/>
<path d="M1200.6 365.98C1362.4 365.98 1424.0 421.50 1585.8 421.50L1585.8 421.50L1585.8 422.53L1585.8 422.53C1424.0 422.53 1362.4 367.16 1200.6 367.16Z"/>
<path d="M1200.6 367.16C1362.4 367.16 1424.0 440.25 1585.8 440.25L1585.8 440.25L1585.8 441.31L1585.8 441.31C1424.0 441.31 1362.4 368.34 1200.6 368.34Z"/>
<path d="M1200.6 368.34C1362.4 368.34 1424.0 467.22 1585.8 467.22L1585.8 467.22L1585.8 468.27L1585.8 468.27C1424.0 468.27 1362.4 369.52 1200.6 369.52Z"/>
<path d="M1200.6 369.52C1362.4 369.52 1424.0 507.14 1585.8 507.14L1585.8 507.14L1585.8 508.21L1585.8 508.21C1424.0 508.21 1362.4 370.70 1200.6 370.70Z"/>
<path d="M1200.6 370.70C1362.4 370.70 1424.0 534.58 1585.8 534.58L1585.8 534.58L1585.8 535.61L1585.8 535.61C1424.0 535.61 1362.4 371.88 1200.6 371.88Z"/>
<path d="M1200.6 371.88C1362.4 371.88 1424.0 660.87 1585.8 660.87L1585.8 660.87L1585.8 661.92L1585.8 661.92C1424.0 661.92 1362.4 373.06 1200.6 373.06Z"/>
<path d="M1200.6 373.06C1362.4 373.06 1424.0 686.28 1585.8 686.28L1585.8 686.28L1585.8 687.33L1585.8 687.33C1424.0 687.33 1362.4 374.24 1200.6 374.24Z"/>
<path d="M1200.6 374.24C1362.4 374.24 1424.0 741.43 1585.8 741.43L1585.8 741.43L1585.8 742.48L1585.8 742.48C1424.0 742.48 1362.4 375.42 1200.6 375.42Z"/>
<path d="M1200.6 375.42C1362.4 375.42 1424.0 771.27 1585.8 771.27L1585.8 771.27L1585.8 772.33L1585.8 772.33C1424.0 772.33 1362.4 376.60 1200.6 376.60Z"/>
<path d="M1200.6 384.00C1362.4 384.00 1424.0 372.41 1585.8 372.41L1585.8 372.41L1585.8 373.47L1585.8 373.47C1424.0 373.47 1362.4 385.12 1200.6 385.12Z"/>
<path d="M1200.6 385.12C1362.4 385.12 1424.0 396.79 1585.8 396.79L1585.8 396.79L1585.8 397.81L1585.8 397.81C1424.0 397.81 1362.4 386.23 1200.6 386.23Z"/>
<path d="M1200.6 386.23C1362.4 386.23 1424.0 535.61 1585.8 535.61L1585.8 535.61L1585.8 536.64L1585.8 536.64C1424.0 536.64 1362.4 387.35 1200.6 387.35Z"/>
<path d="M1200.6 387.35C1362.4 387.35 1424.0 711.14 1585.8 711.14L1585.8 711.14L1585.8 712.19L1585.8 712.19C1424.0 712.19 1362.4 388.47 1200.6 388.47Z"/>
<path d="M1200.6 388.47C1362.4 388.47 1424.0 742.48 1585.8 742.48L1585.8 742.48L1585.8 743.52L1585.8 743.52C1424.0 743.52 1362.4 389.58 1200.6 389.58Z"/>
<path d="M1200.6 389.58C1362.4 389.58 1424.0 772.33 1585.8 772.33L1585.8 772.33L1585.8 773.38L1585.8 773.38C1424.0 773.38 1362.4 390.70 1200.6 390.70Z"/>
<path d="M1200.6 397.30C1362.4 397.30 1424.0 373.47 1585.8 373.47L1585.8 373.47L1585.8 374.52L1585.8 374.52C1424.0 374.52 1362.4 398.48 1200.6 398.48Z"/>
<path d="M1200.6 398.48C1362.4 398.48 1424.0 492.23 1585.8 492.23L1585.8 492.23L1585.8 493.27L1585.8 493.27C1424.0 493.27 1362.4 399.65 1200.6 399.65Z"/>
<path d="M1200.6 399.65C1362.4 399.65 1424.0 712.19 1585.8 712.19L1585.8 712.19L1585.8 713.23L1585.8 713.23C1424.0 713.23 1362.4 400.82 1200.6 400.82Z"/>
<path d="M1200.6 400.82C1362.4 400.82 1424.0 773.38 1585.8 773.38L1585.8 773.38L1585.8 774.43L1585.8 774.43C1424.0 774.43 1362.4 402.00 1200.6 402.00Z"/>
<path d="M1200.6 408.90C1362.4 408.90 1424.0 687.33 1585.8 687.33L1585.8 687.33L1585.8 688.39L1585.8 688.39C1424.0 688.39 1362.4 410.15 1200.6 410.15Z"/>
<path d="M1200.6 410.15C1362.4 410.15 1424.0 774.43 1585.8 774.43L1585.8 774.43L1585.8 775.48L1585.8 775.48C1424.0 775.48 1362.4 411.40 1200.6 411.40Z"/>
<path d="M1200.6 419.50C1362.4 419.50 1424.0 563.28 1585.8 563.28L1585.8 563.28L1585.8 564.33L1585.8 564.33C1424.0 564.33 1362.4 420.75 1200.6 420.75Z"/>
<path d="M1200.6 420.75C1362.4 420.75 1424.0 775.48 1585.8 775.48L1585.8 775.48L1585.8 776.54L1585.8 776.54C1424.0 776.54 1362.4 422.00 1200.6 422.00Z"/>
<path d="M1200.6 428.90C1362.4 428.90 1424.0 374.52 1585.8 374.52L1585.8 374.52L1585.8 375.57L1585.8 375.57C1424.0 375.57 1362.4 429.96 1200.6 429.96Z"/>
<path d="M1200.6 429.96C1362.4 429.96 1424.0 422.53 1585.8 422.53L1585.8 422.53L1585.8 423.57L1585.8 423.57C1424.0 423.57 1362.4 431.02 1200.6 431.02Z"/>
<path d="M1200.6 431.02C1362.4 431.02 1424.0 441.31 1585.8 441.31L1585.8 441.31L1585.8 442.38L1585.8 442.38C1424.0 442.38 1362.4 432.09 1200.6 432.09Z"/>
<path d="M1200.6 432.09C1362.4 432.09 1424.0 508.21 1585.8 508.21L1585.8 508.21L1585.8 509.29L1585.8 509.29C1424.0 509.29 1362.4 433.15 1200.6 433.15Z"/>
<path d="M1200.6 433.15C1362.4 433.15 1424.0 610.23 1585.8 610.23L1585.8 610.23L1585.8 611.31L1585.8 611.31C1424.0 611.31 1362.4 434.21 1200.6 434.21Z"/>
<path d="M1200.6 434.21C1362.4 434.21 1424.0 713.23 1585.8 713.23L1585.8 713.23L1585.8 714.28L1585.8 714.28C1424.0 714.28 1362.4 435.27 1200.6 435.27Z"/>
<path d="M1200.6 435.27C1362.4 435.27 1424.0 743.52 1585.8 743.52L1585.8 743.52L1585.8 744.57L1585.8 744.57C1424.0 744.57 1362.4 436.34 1200.6 436.34Z"/>
<path d="M1200.6 436.34C1362.4 436.34 1424.0 776.54 1585.8 776.54L1585.8 776.54L1585.8 777.59L1585.8 777.59C1424.0 777.59 1362.4 437.40 1200.6 437.40Z"/>
<path d="M1200.6 444.40C1362.4 444.40 1424.0 375.57 1585.8 375.57L1585.8 375.57L1585.8 376.63L1585.8 376.63C1424.0 376.63 1362.4 445.56 1200.6 445.56Z"/>
<path d="M1200.6 445.56C1362.4 445.56 1424.0 423.57 1585.8 423.57L1585.8 423.57L1585.8 424.60L1585.8 424.60C1424.0 424.60 1362.4 446.71 1200.6 446.71Z"/>
<path d="M1200.6 446.71C1362.4 446.71 1424.0 442.38 1585.8 442.38L1585.8 442.38L1585.8 443.44L1585.8 443.44C1424.0 443.44 1362.4 447.87 1200.6 447.87Z"/>
<path d="M1200.6 447.87C1362.4 447.87 1424.0 493.27 1585.8 493.27L1585.8 493.27L1585.8 494.30L1585.8 494.30C1424.0 494.30 1362.4 449.02 1200.6 449.02Z"/>
<path d="M1200.6 449.02C1362.4 449.02 1424.0 536.64 1585.8 536.64L1585.8 536.64L1585.8 537.67L1585.8 537.67C1424.0 537.67 1362.4 450.18 1200.6 450.18Z"/>
<path d="M1200.6 450.18C1362.4 450.18 1424.0 564.33 1585.8 564.33L1585.8 564.33L1585.8 565.37L1585.8 565.37C1424.0 565.37 1362.4 451.33 1200.6 451.33Z"/>
<path d="M1200.6 451.33C1362.4 451.33 1424.0 586.33 1585.8 586.33L1585.8 586.33L1585.8 587.40L1585.8 587.40C1424.0 587.40 1362.4 452.49 1200.6 452.49Z"/>
<path d="M1200.6 452.49C1362.4 452.49 1424.0 661.92 1585.8 661.92L1585.8 661.92L1585.8 662.97L1585.8 662.97C1424.0 662.97 1362.4 453.64 1200.6 453.64Z"/>
<path d="M1200.6 453.64C1362.4 453.64 1424.0 777.59 1585.8 777.59L1585.8 777.59L1585.8 778.64L1585.8 778.64C1424.0 778.64 1362.4 454.80 1200.6 454.80Z"/>
<path d="M1200.6 461.90C1362.4 461.90 1424.0 327.95 1585.8 327.95L1585.8 327.95L1585.8 328.98L1585.8 328.98C1424.0 328.98 1362.4 463.02 1200.6 463.02Z"/>
<path d="M1200.6 463.02C1362.4 463.02 1424.0 351.87 1585.8 351.87L1585.8 351.87L1585.8 352.96L1585.8 352.96C1424.0 352.96 1362.4 464.14 1200.6 464.14Z"/>
<path d="M1200.6 464.14C1362.4 464.14 1424.0 376.63 1585.8 376.63L1585.8 376.63L1585.8 377.68L1585.8 377.68C1424.0 377.68 1362.4 465.27 1200.6 465.27Z"/>
<path d="M1200.6 465.27C1362.4 465.27 1424.0 443.44 1585.8 443.44L1585.8 443.44L1585.8 444.50L1585.8 444.50C1424.0 444.50 1362.4 466.39 1200.6 466.39Z"/>
<path d="M1200.6 466.39C1362.4 466.39 1424.0 634.16 1585.8 634.16L1585.8 634.16L1585.8 635.19L1585.8 635.19C1424.0 635.19 1362.4 467.51 1200.6 467.51Z"/>
<path d="M1200.6 467.51C1362.4 467.51 1424.0 662.97 1585.8 662.97L1585.8 662.97L1585.8 664.03L1585.8 664.03C1424.0 664.03 1362.4 468.63 1200.6 468.63Z"/>
<path d="M1200.6 468.63C1362.4 468.63 1424.0 688.39 1585.8 688.39L1585.8 688.39L1585.8 689.44L1585.8 689.44C1424.0 689.44 1362.4 469.76 1200.6 469.76Z"/>
<path d="M1200.6 469.76C1362.4 469.76 1424.0 744.57 1585.8 744.57L1585.8 744.57L1585.8 745.62L1585.8 745.62C1424.0 745.62 1362.4 470.88 1200.6 470.88Z"/>
<path d="M1200.6 470.88C1362.4 470.88 1424.0 778.64 1585.8 778.64L1585.8 778.64L1585.8 779.69L1585.8 779.69C1424.0 779.69 1362.4 472.00 1200.6 472.00Z"/>
<path d="M1200.6 480.00C1362.4 480.00 1424.0 779.69 1585.8 779.69L1585.8 779.69L1585.8 780.75L1585.8 780.75C1424.0 780.75 1362.4 481.40 1200.6 481.40Z"/>
<path d="M1200.6 488.70C1362.4 488.70 1424.0 397.81 1585.8 397.81L1585.8 397.81L1585.8 398.83L1585.8 398.83C1424.0 398.83 1362.4 489.77 1200.6 489.77Z"/>
<path d="M1200.6 489.77C1362.4 489.77 1424.0 468.27 1585.8 468.27L1585.8 468.27L1585.8 469.33L1585.8 469.33C1424.0 469.33 1362.4 490.85 1200.6 490.85Z"/>
<path d="M1200.6 490.85C1362.4 490.85 1424.0 745.62 1585.8 745.62L1585.8 745.62L1585.8 746.67L1585.8 746.67C1424.0 746.67 1362.4 491.93 1200.6 491.93Z"/>
<path d="M1200.6 491.93C1362.4 491.93 1424.0 780.75 1585.8 780.75L1585.8 780.75L1585.8 781.80L1585.8 781.80C1424.0 781.80 1362.4 493.00 1200.6 493.00Z"/>
<path d="M1200.6 500.00C1362.4 500.00 1424.0 444.50 1585.8 444.50L1585.8 444.50L1585.8 445.56L1585.8 445.56C1424.0 445.56 1362.4 501.00 1200.6 501.00Z"/>
<path d="M1200.6 501.00C1362.4 501.00 1424.0 781.80 1585.8 781.80L1585.8 781.80L1585.8 782.85L1585.8 782.85C1424.0 782.85 1362.4 502.00 1200.6 502.00Z"/>
<path d="M1200.6 509.50C1362.4 509.50 1424.0 782.85 1585.8 782.85L1585.8 782.85L1585.8 783.91L1585.8 783.91C1424.0 783.91 1362.4 511.00 1200.6 511.00Z"/>
<path d="M1200.6 517.70C1362.4 517.70 1424.0 509.29 1585.8 509.29L1585.8 509.29L1585.8 510.36L1585.8 510.36C1424.0 510.36 1362.4 518.88 1200.6 518.88Z"/>
<path d="M1200.6 518.88C1362.4 518.88 1424.0 587.40 1585.8 587.40L1585.8 587.40L1585.8 588.47L1585.8 588.47C1424.0 588.47 1362.4 520.05 1200.6 520.05Z"/>
<path d="M1200.6 520.05C1362.4 520.05 1424.0 689.44 1585.8 689.44L1585.8 689.44L1585.8 690.50L1585.8 690.50C1424.0 690.50 1362.4 521.22 1200.6 521.22Z"/>
<path d="M1200.6 521.23C1362.4 521.23 1424.0 783.91 1585.8 783.91L1585.8 783.91L1585.8 784.96L1585.8 784.96C1424.0 784.96 1362.4 522.40 1200.6 522.40Z"/>
<path d="M1200.6 529.00C1362.4 529.00 1424.0 328.98 1585.8 328.98L1585.8 328.98L1585.8 330.01L1585.8 330.01C1424.0 330.01 1362.4 530.00 1200.6 530.00Z"/>
<path d="M1200.6 530.00C1362.4 530.00 1424.0 398.83 1585.8 398.83L1585.8 398.83L1585.8 399.85L1585.8 399.85C1424.0 399.85 1362.4 531.00 1200.6 531.00Z"/>
<path d="M1200.6 531.00C1362.4 531.00 1424.0 510.36 1585.8 510.36L1585.8 510.36L1585.8 511.43L1585.8 511.43C1424.0 511.43 1362.4 532.00 1200.6 532.00Z"/>
<path d="M1200.6 532.00C1362.4 532.00 1424.0 537.67 1585.8 537.67L1585.8 537.67L1585.8 538.70L1585.8 538.70C1424.0 538.70 1362.4 533.00 1200.6 533.00Z"/>
<path d="M1200.6 533.00C1362.4 533.00 1424.0 588.47 1585.8 588.47L1585.8 588.47L1585.8 589.53L1585.8 589.53C1424.0 589.53 1362.4 534.00 1200.6 534.00Z"/>
<path d="M1200.6 534.00C1362.4 534.00 1424.0 611.31 1585.8 611.31L1585.8 611.31L1585.8 612.40L1585.8 612.40C1424.0 612.40 1362.4 535.00 1200.6 535.00Z"/>
<path d="M1200.6 535.00C1362.4 535.00 1424.0 635.19 1585.8 635.19L1585.8 635.19L1585.8 636.22L1585.8 636.22C1424.0 636.22 1362.4 536.00 1200.6 536.00Z"/>
<path d="M1200.6 536.00C1362.4 536.00 1424.0 784.96 1585.8 784.96L1585.8 784.96L1585.8 786.01L1585.8 786.01C1424.0 786.01 1362.4 537.00 1200.6 537.00Z"/>
<path d="M1200.6 543.60C1362.4 543.60 1424.0 352.96 1585.8 352.96L1585.8 352.96L1585.8 354.05L1585.8 354.05C1424.0 354.05 1362.4 544.60 1200.6 544.60Z"/>
<path d="M1200.6 544.60C1362.4 544.60 1424.0 377.68 1585.8 377.68L1585.8 377.68L1585.8 378.73L1585.8 378.73C1424.0 378.73 1362.4 545.60 1200.6 545.60Z"/>
<path d="M1200.6 545.60C1362.4 545.60 1424.0 424.60 1585.8 424.60L1585.8 424.60L1585.8 425.63L1585.8 425.63C1424.0 425.63 1362.4 546.60 1200.6 546.60Z"/>
<path d="M1200.6 546.60C1362.4 546.60 1424.0 494.30 1585.8 494.30L1585.8 494.30L1585.8 495.33L1585.8 495.33C1424.0 495.33 1362.4 547.60 1200.6 547.60Z"/>
<path d="M1200.6 547.60C1362.4 547.60 1424.0 511.43 1585.8 511.43L1585.8 511.43L1585.8 512.50L1585.8 512.50C1424.0 512.50 1362.4 548.60 1200.6 548.60Z"/>
<path d="M1200.6 548.60C1362.4 548.60 1424.0 690.50 1585.8 690.50L1585.8 690.50L1585.8 691.56L1585.8 691.56C1424.0 691.56 1362.4 549.60 1200.6 549.60Z"/>
<path d="M1200.6 549.60C1362.4 549.60 1424.0 714.28 1585.8 714.28L1585.8 714.28L1585.8 715.33L1585.8 715.33C1424.0 715.33 1362.4 550.60 1200.6 550.60Z"/>
<path d="M1200.6 550.60C1362.4 550.60 1424.0 746.67 1585.8 746.67L1585.8 746.67L1585.8 747.71L1585.8 747.71C1424.0 747.71 1362.4 551.60 1200.6 551.60Z"/>
<path d="M1200.6 551.60C1362.4 551.60 1424.0 786.01 1585.8 786.01L1585.8 786.01L1585.8 787.06L1585.8 787.06C1424.0 787.06 1362.4 552.60 1200.6 552.60Z"/>
<path d="M1200.6 560.00C1362.4 560.00 1424.0 378.73 1585.8 378.73L1585.8 378.73L1585.8 379.79L1585.8 379.79C1424.0 379.79 1362.4 561.10 1200.6 561.10Z"/>
<path d="M1200.6 561.10C1362.4 561.10 1424.0 445.56 1585.8 445.56L1585.8 445.56L1585.8 446.62L1585.8 446.62C1424.0 446.62 1362.4 562.20 1200.6 562.20Z"/>
<path d="M1200.6 562.20C1362.4 562.20 1424.0 469.33 1585.8 469.33L1585.8 469.33L1585.8 470.38L1585.8 470.38C1424.0 470.38 1362.4 563.30 1200.6 563.30Z"/>
<path d="M1200.6 563.30C1362.4 563.30 1424.0 512.50 1585.8 512.50L1585.8 512.50L1585.8 513.57L1585.8 513.57C1424.0 513.57 1362.4 564.40 1200.6 564.40Z"/>
<path d="M1200.6 564.40C1362.4 564.40 1424.0 538.70 1585.8 538.70L1585.8 538.70L1585.8 539.73L1585.8 539.73C1424.0 539.73 1362.4 565.50 1200.6 565.50Z"/>
<path d="M1200.6 565.50C1362.4 565.50 1424.0 565.37 1585.8 565.37L1585.8 565.37L1585.8 566.42L1585.8 566.42C1424.0 566.42 1362.4 566.60 1200.6 566.60Z"/>
<path d="M1200.6 566.60C1362.4 566.60 1424.0 589.53 1585.8 589.53L1585.8 589.53L1585.8 590.60L1585.8 590.60C1424.0 590.60 1362.4 567.70 1200.6 567.70Z"/>
<path d="M1200.6 567.70C1362.4 567.70 1424.0 612.40 1585.8 612.40L1585.8 612.40L1585.8 613.49L1585.8 613.49C1424.0 613.49 1362.4 568.80 1200.6 568.80Z"/>
<path d="M1200.6 568.80C1362.4 568.80 1424.0 636.22 1585.8 636.22L1585.8 636.22L1585.8 637.25L1585.8 637.25C1424.0 637.25 1362.4 569.90 1200.6 569.90Z"/>
<path d="M1200.6 569.90C1362.4 569.90 1424.0 664.03 1585.8 664.03L1585.8 664.03L1585.8 665.08L1585.8 665.08C1424.0 665.08 1362.4 571.00 1200.6 571.00Z"/>
<path d="M1200.6 571.00C1362.4 571.00 1424.0 691.56 1585.8 691.56L1585.8 691.56L1585.8 692.61L1585.8 692.61C1424.0 692.61 1362.4 572.10 1200.6 572.10Z"/>
<path d="M1200.6 572.10C1362.4 572.10 1424.0 715.33 1585.8 715.33L1585.8 715.33L1585.8 716.37L1585.8 716.37C1424.0 716.37 1362.4 573.20 1200.6 573.20Z"/>
<path d="M1200.6 573.20C1362.4 573.20 1424.0 747.71 1585.8 747.71L1585.8 747.71L1585.8 748.76L1585.8 748.76C1424.0 748.76 1362.4 574.30 1200.6 574.30Z"/>
<path d="M1200.6 574.30C1362.4 574.30 1424.0 787.06 1585.8 787.06L1585.8 787.06L1585.8 788.12L1585.8 788.12C1424.0 788.12 1362.4 575.40 1200.6 575.40Z"/>
<path d="M1200.6 582.50C1362.4 582.50 1424.0 330.01 1585.8 330.01L1585.8 330.01L1585.8 331.04L1585.8 331.04C1424.0 331.04 1362.4 583.62 1200.6 583.62Z"/>
<path d="M1200.6 583.62C1362.4 583.62 1424.0 399.85 1585.8 399.85L1585.8 399.85L1585.8 400.87L1585.8 400.87C1424.0 400.87 1362.4 584.73 1200.6 584.73Z"/>
<path d="M1200.6 584.73C1362.4 584.73 1424.0 425.63 1585.8 425.63L1585.8 425.63L1585.8 426.67L1585.8 426.67C1424.0 426.67 1362.4 585.85 1200.6 585.85Z"/>
<path d="M1200.6 585.85C1362.4 585.85 1424.0 446.62 1585.8 446.62L1585.8 446.62L1585.8 447.69L1585.8 447.69C1424.0 447.69 1362.4 586.96 1200.6 586.96Z"/>
<path d="M1200.6 586.96C1362.4 586.96 1424.0 539.73 1585.8 539.73L1585.8 539.73L1585.8 540.76L1585.8 540.76C1424.0 540.76 1362.4 588.08 1200.6 588.08Z"/>
<path d="M1200.6 588.08C1362.4 588.08 1424.0 566.42 1585.8 566.42L1585.8 566.42L1585.8 567.47L1585.8 567.47C1424.0 567.47 1362.4 589.19 1200.6 589.19Z"/>
<path d="M1200.6 589.19C1362.4 589.19 1424.0 590.60 1585.8 590.60L1585.8 590.60L1585.8 591.67L1585.8 591.67C1424.0 591.67 1362.4 590.31 1200.6 590.31Z"/>
<path d="M1200.6 590.31C1362.4 590.31 1424.0 637.25 1585.8 637.25L1585.8 637.25L1585.8 638.28L1585.8 638.28C1424.0 638.28 1362.4 591.42 1200.6 591.42Z"/>
<path d="M1200.6 591.42C1362.4 591.42 1424.0 665.08 1585.8 665.08L1585.8 665.08L1585.8 666.13L1585.8 666.13C1424.0 666.13 1362.4 592.54 1200.6 592.54Z"/>
<path d="M1200.6 592.54C1362.4 592.54 1424.0 692.61 1585.8 692.61L1585.8 692.61L1585.8 693.67L1585.8 693.67C1424.0 693.67 1362.4 593.65 1200.6 593.65Z"/>
<path d="M1200.6 593.65C1362.4 593.65 1424.0 716.37 1585.8 716.37L1585.8 716.37L1585.8 717.42L1585.8 717.42C1424.0 717.42 1362.4 594.77 1200.6 594.77Z"/>
<path d="M1200.6 594.77C1362.4 594.77 1424.0 748.76 1585.8 748.76L1585.8 748.76L1585.8 749.81L1585.8 749.81C1424.0 749.81 1362.4 595.88 1200.6 595.88Z"/>
<path d="M1200.6 595.88C1362.4 595.88 1424.0 788.12 1585.8 788.12L1585.8 788.12L1585.8 789.17L1585.8 789.17C1424.0 789.17 1362.4 597.00 1200.6 597.00Z"/>
<path d="M1200.6 604.00C1362.4 604.00 1424.0 354.05 1585.8 354.05L1585.8 354.05L1585.8 355.15L1585.8 355.15C1424.0 355.15 1362.4 605.20 1200.6 605.20Z"/>
<path d="M1200.6 605.20C1362.4 605.20 1424.0 400.87 1585.8 400.87L1585.8 400.87L1585.8 401.89L1585.8 401.89C1424.0 401.89 1362.4 606.40 1200.6 606.40Z"/>
<path d="M1200.6 606.40C1362.4 606.40 1424.0 426.67 1585.8 426.67L1585.8 426.67L1585.8 427.70L1585.8 427.70C1424.0 427.70 1362.4 607.60 1200.6 607.60Z"/>
<path d="M1200.6 607.60C1362.4 607.60 1424.0 447.69 1585.8 447.69L1585.8 447.69L1585.8 448.75L1585.8 448.75C1424.0 448.75 1362.4 608.80 1200.6 608.80Z"/>
<path d="M1200.6 608.80C1362.4 608.80 1424.0 513.57 1585.8 513.57L1585.8 513.57L1585.8 514.64L1585.8 514.64C1424.0 514.64 1362.4 610.00 1200.6 610.00Z"/>
<path d="M1200.6 610.00C1362.4 610.00 1424.0 540.76 1585.8 540.76L1585.8 540.76L1585.8 541.79L1585.8 541.79C1424.0 541.79 1362.4 611.20 1200.6 611.20Z"/>
<path d="M1200.6 611.20C1362.4 611.20 1424.0 613.49 1585.8 613.49L1585.8 613.49L1585.8 614.57L1585.8 614.57C1424.0 614.57 1362.4 612.40 1200.6 612.40Z"/>
<path d="M1200.6 612.40C1362.4 612.40 1424.0 717.42 1585.8 717.42L1585.8 717.42L1585.8 718.47L1585.8 718.47C1424.0 718.47 1362.4 613.60 1200.6 613.60Z"/>
<path d="M1200.6 613.60C1362.4 613.60 1424.0 789.17 1585.8 789.17L1585.8 789.17L1585.8 790.22L1585.8 790.22C1424.0 790.22 1362.4 614.80 1200.6 614.80Z"/>
<path d="M1200.6 622.00C1362.4 622.00 1424.0 331.04 1585.8 331.04L1585.8 331.04L1585.8 332.06L1585.8 332.06C1424.0 332.06 1362.4 623.20 1200.6 623.20Z"/>
<path d="M1200.6 623.20C1362.4 623.20 1424.0 790.22 1585.8 790.22L1585.8 790.22L1585.8 791.27L1585.8 791.27C1424.0 791.27 1362.4 624.40 1200.6 624.40Z"/>
<path d="M1200.6 632.00C1362.4 632.00 1424.0 332.06 1585.8 332.06L1585.8 332.06L1585.8 333.09L1585.8 333.09C1424.0 333.09 1362.4 633.14 1200.6 633.14Z"/>
<path d="M1200.6 633.14C1362.4 633.14 1424.0 379.79 1585.8 379.79L1585.8 379.79L1585.8 380.84L1585.8 380.84C1424.0 380.84 1362.4 634.27 1200.6 634.27Z"/>
<path d="M1200.6 634.27C1362.4 634.27 1424.0 401.89 1585.8 401.89L1585.8 401.89L1585.8 402.91L1585.8 402.91C1424.0 402.91 1362.4 635.41 1200.6 635.41Z"/>
<path d="M1200.6 635.41C1362.4 635.41 1424.0 514.64 1585.8 514.64L1585.8 514.64L1585.8 515.71L1585.8 515.71C1424.0 515.71 1362.4 636.55 1200.6 636.55Z"/>
<path d="M1200.6 636.55C1362.4 636.55 1424.0 541.79 1585.8 541.79L1585.8 541.79L1585.8 542.82L1585.8 542.82C1424.0 542.82 1362.4 637.68 1200.6 637.68Z"/>
<path d="M1200.6 637.68C1362.4 637.68 1424.0 591.67 1585.8 591.67L1585.8 591.67L1585.8 592.73L1585.8 592.73C1424.0 592.73 1362.4 638.82 1200.6 638.82Z"/>
<path d="M1200.6 638.82C1362.4 638.82 1424.0 614.57 1585.8 614.57L1585.8 614.57L1585.8 615.66L1585.8 615.66C1424.0 615.66 1362.4 639.95 1200.6 639.95Z"/>
<path d="M1200.6 639.95C1362.4 639.95 1424.0 638.28 1585.8 638.28L1585.8 638.28L1585.8 639.31L1585.8 639.31C1424.0 639.31 1362.4 641.09 1200.6 641.09Z"/>
<path d="M1200.6 641.09C1362.4 641.09 1424.0 666.13 1585.8 666.13L1585.8 666.13L1585.8 667.18L1585.8 667.18C1424.0 667.18 1362.4 642.23 1200.6 642.23Z"/>
<path d="M1200.6 642.23C1362.4 642.23 1424.0 693.67 1585.8 693.67L1585.8 693.67L1585.8 694.72L1585.8 694.72C1424.0 694.72 1362.4 643.36 1200.6 643.36Z"/>
<path d="M1200.6 643.36C1362.4 643.36 1424.0 791.27 1585.8 791.27L1585.8 791.27L1585.8 792.33L1585.8 792.33C1424.0 792.33 1362.4 644.50 1200.6 644.50Z"/>
<path d="M1200.6 651.80C1362.4 651.80 1424.0 355.15 1585.8 355.15L1585.8 355.15L1585.8 356.24L1585.8 356.24C1424.0 356.24 1362.4 652.86 1200.6 652.86Z"/>
<path d="M1200.6 652.86C1362.4 652.86 1424.0 470.38 1585.8 470.38L1585.8 470.38L1585.8 471.43L1585.8 471.43C1424.0 471.43 1362.4 653.92 1200.6 653.92Z"/>
<path d="M1200.6 653.92C1362.4 653.92 1424.0 495.33 1585.8 495.33L1585.8 495.33L1585.8 496.37L1585.8 496.37C1424.0 496.37 1362.4 654.98 1200.6 654.98Z"/>
<path d="M1200.6 654.98C1362.4 654.98 1424.0 515.71 1585.8 515.71L1585.8 515.71L1585.8 516.79L1585.8 516.79C1424.0 516.79 1362.4 656.04 1200.6 656.04Z"/>
<path d="M1200.6 656.04C1362.4 656.04 1424.0 542.82 1585.8 542.82L1585.8 542.82L1585.8 543.85L1585.8 543.85C1424.0 543.85 1362.4 657.10 1200.6 657.10Z"/>
<path d="M1200.6 657.10C1362.4 657.10 1424.0 567.47 1585.8 567.47L1585.8 567.47L1585.8 568.51L1585.8 568.51C1424.0 568.51 1362.4 658.16 1200.6 658.16Z"/>
<path d="M1200.6 658.16C1362.4 658.16 1424.0 639.31 1585.8 639.31L1585.8 639.31L1585.8 640.34L1585.8 640.34C1424.0 640.34 1362.4 659.22 1200.6 659.22Z"/>
<path d="M1200.6 659.22C1362.4 659.22 1424.0 667.18 1585.8 667.18L1585.8 667.18L1585.8 668.24L1585.8 668.24C1424.0 668.24 1362.4 660.28 1200.6 660.28Z"/>
<path d="M1200.6 660.28C1362.4 660.28 1424.0 718.47 1585.8 718.47L1585.8 718.47L1585.8 719.51L1585.8 719.51C1424.0 719.51 1362.4 661.34 1200.6 661.34Z"/>
<path d="M1200.6 661.34C1362.4 661.34 1424.0 792.33 1585.8 792.33L1585.8 792.33L1585.8 793.38L1585.8 793.38C1424.0 793.38 1362.4 662.40 1200.6 662.40Z"/>
<path d="M1200.6 669.40C1362.4 669.40 1424.0 333.09 1585.8 333.09L1585.8 333.09L1585.8 334.12L1585.8 334.12C1424.0 334.12 1362.4 670.55 1200.6 670.55Z"/>
<path d="M1200.6 670.55C1362.4 670.55 1424.0 356.24 1585.8 356.24L1585.8 356.24L1585.8 357.33L1585.8 357.33C1424.0 357.33 1362.4 671.69 1200.6 671.69Z"/>
<path d="M1200.6 671.69C1362.4 671.69 1424.0 402.91 1585.8 402.91L1585.8 402.91L1585.8 403.94L1585.8 403.94C1424.0 403.94 1362.4 672.84 1200.6 672.84Z"/>
<path d="M1200.6 672.84C1362.4 672.84 1424.0 448.75 1585.8 448.75L1585.8 448.75L1585.8 449.81L1585.8 449.81C1424.0 449.81 1362.4 673.98 1200.6 673.98Z"/>
<path d="M1200.6 673.98C1362.4 673.98 1424.0 471.43 1585.8 471.43L1585.8 471.43L1585.8 472.49L1585.8 472.49C1424.0 472.49 1362.4 675.13 1200.6 675.13Z"/>
<path d="M1200.6 675.13C1362.4 675.13 1424.0 543.85 1585.8 543.85L1585.8 543.85L1585.8 544.88L1585.8 544.88C1424.0 544.88 1362.4 676.27 1200.6 676.27Z"/>
<path d="M1200.6 676.27C1362.4 676.27 1424.0 668.24 1585.8 668.24L1585.8 668.24L1585.8 669.29L1585.8 669.29C1424.0 669.29 1362.4 677.42 1200.6 677.42Z"/>
<path d="M1200.6 677.42C1362.4 677.42 1424.0 694.72 1585.8 694.72L1585.8 694.72L1585.8 695.78L1585.8 695.78C1424.0 695.78 1362.4 678.56 1200.6 678.56Z"/>
<path d="M1200.6 678.56C1362.4 678.56 1424.0 719.51 1585.8 719.51L1585.8 719.51L1585.8 720.56L1585.8 720.56C1424.0 720.56 1362.4 679.71 1200.6 679.71Z"/>
<path d="M1200.6 679.71C1362.4 679.71 1424.0 749.81 1585.8 749.81L1585.8 749.81L1585.8 750.86L1585.8 750.86C1424.0 750.86 1362.4 680.85 1200.6 680.85Z"/>
<path d="M1200.6 680.85C1362.4 680.85 1424.0 793.38 1585.8 793.38L1585.8 793.38L1585.8 794.43L1585.8 794.43C1424.0 794.43 1362.4 682.00 1200.6 682.00Z"/>
<path d="M1200.6 689.00C1362.4 689.00 1424.0 334.12 1585.8 334.12L1585.8 334.12L1585.8 335.15L1585.8 335.15C1424.0 335.15 1362.4 690.09 1200.6 690.09Z"/>
<path d="M1200.6 690.09C1362.4 690.09 1424.0 357.33 1585.8 357.33L1585.8 357.33L1585.8 358.42L1585.8 358.42C1424.0 358.42 1362.4 691.19 1200.6 691.19Z"/>
<path d="M1200.6 691.19C1362.4 691.19 1424.0 403.94 1585.8 403.94L1585.8 403.94L1585.8 404.96L1585.8 404.96C1424.0 404.96 1362.4 692.28 1200.6 692.28Z"/>
<path d="M1200.6 692.28C1362.4 692.28 1424.0 516.79 1585.8 516.79L1585.8 516.79L1585.8 517.86L1585.8 517.86C1424.0 517.86 1362.4 693.37 1200.6 693.37Z"/>
<path d="M1200.6 693.37C1362.4 693.37 1424.0 544.88 1585.8 544.88L1585.8 544.88L1585.8 545.91L1585.8 545.91C1424.0 545.91 1362.4 694.46 1200.6 694.46Z"/>
<path d="M1200.6 694.46C1362.4 694.46 1424.0 568.51 1585.8 568.51L1585.8 568.51L1585.8 569.56L1585.8 569.56C1424.0 569.56 1362.4 695.56 1200.6 695.56Z"/>
<path d="M1200.6 695.56C1362.4 695.56 1424.0 592.73 1585.8 592.73L1585.8 592.73L1585.8 593.80L1585.8 593.80C1424.0 593.80 1362.4 696.65 1200.6 696.65Z"/>
<path d="M1200.6 696.65C1362.4 696.65 1424.0 615.66 1585.8 615.66L1585.8 615.66L1585.8 616.74L1585.8 616.74C1424.0 616.74 1362.4 697.74 1200.6 697.74Z"/>
<path d="M1200.6 697.74C1362.4 697.74 1424.0 640.34 1585.8 640.34L1585.8 640.34L1585.8 641.38L1585.8 641.38C1424.0 641.38 1362.4 698.84 1200.6 698.84Z"/>
<path d="M1200.6 698.84C1362.4 698.84 1424.0 669.29 1585.8 669.29L1585.8 669.29L1585.8 670.34L1585.8 670.34C1424.0 670.34 1362.4 699.93 1200.6 699.93Z"/>
<path d="M1200.6 699.93C1362.4 699.93 1424.0 695.78 1585.8 695.78L1585.8 695.78L1585.8 696.83L1585.8 696.83C1424.0 696.83 1362.4 701.02 1200.6 701.02Z"/>
<path d="M1200.6 701.02C1362.4 701.02 1424.0 720.56 1585.8 720.56L1585.8 720.56L1585.8 721.61L1585.8 721.61C1424.0 721.61 1362.4 702.11 1200.6 702.11Z"/>
<path d="M1200.6 702.11C1362.4 702.11 1424.0 750.86 1585.8 750.86L1585.8 750.86L1585.8 751.90L1585.8 751.90C1424.0 751.90 1362.4 703.21 1200.6 703.21Z"/>
<path d="M1200.6 703.21C1362.4 703.21 1424.0 794.43 1585.8 794.43L1585.8 794.43L1585.8 795.48L1585.8 795.48C1424.0 795.48 1362.4 704.30 1200.6 704.30Z"/>
<path d="M1200.6 711.80C1362.4 711.80 1424.0 380.84 1585.8 380.84L1585.8 380.84L1585.8 381.89L1585.8 381.89C1424.0 381.89 1362.4 712.90 1200.6 712.90Z"/>
<path d="M1200.6 712.90C1362.4 712.90 1424.0 404.96 1585.8 404.96L1585.8 404.96L1585.8 405.98L1585.8 405.98C1424.0 405.98 1362.4 714.00 1200.6 714.00Z"/>
<path d="M1200.6 714.00C1362.4 714.00 1424.0 449.81 1585.8 449.81L1585.8 449.81L1585.8 450.88L1585.8 450.88C1424.0 450.88 1362.4 715.10 1200.6 715.10Z"/>
<path d="M1200.6 715.10C1362.4 715.10 1424.0 472.49 1585.8 472.49L1585.8 472.49L1585.8 473.54L1585.8 473.54C1424.0 473.54 1362.4 716.20 1200.6 716.20Z"/>
<path d="M1200.6 716.20C1362.4 716.20 1424.0 517.86 1585.8 517.86L1585.8 517.86L1585.8 518.93L1585.8 518.93C1424.0 518.93 1362.4 717.30 1200.6 717.30Z"/>
<path d="M1200.6 717.30C1362.4 717.30 1424.0 545.91 1585.8 545.91L1585.8 545.91L1585.8 546.94L1585.8 546.94C1424.0 546.94 1362.4 718.40 1200.6 718.40Z"/>
<path d="M1200.6 718.40C1362.4 718.40 1424.0 569.56 1585.8 569.56L1585.8 569.56L1585.8 570.61L1585.8 570.61C1424.0 570.61 1362.4 719.50 1200.6 719.50Z"/>
<path d="M1200.6 719.50C1362.4 719.50 1424.0 593.80 1585.8 593.80L1585.8 593.80L1585.8 594.87L1585.8 594.87C1424.0 594.87 1362.4 720.60 1200.6 720.60Z"/>
<path d="M1200.6 720.60C1362.4 720.60 1424.0 616.74 1585.8 616.74L1585.8 616.74L1585.8 617.83L1585.8 617.83C1424.0 617.83 1362.4 721.70 1200.6 721.70Z"/>
<path d="M1200.6 721.70C1362.4 721.70 1424.0 641.38 1585.8 641.38L1585.8 641.38L1585.8 642.41L1585.8 642.41C1424.0 642.41 1362.4 722.80 1200.6 722.80Z"/>
<path d="M1200.6 722.80C1362.4 722.80 1424.0 670.34 1585.8 670.34L1585.8 670.34L1585.8 671.39L1585.8 671.39C1424.0 671.39 1362.4 723.90 1200.6 723.90Z"/>
<path d="M1200.6 723.90C1362.4 723.90 1424.0 696.83 1585.8 696.83L1585.8 696.83L1585.8 697.89L1585.8 697.89C1424.0 697.89 1362.4 725.00 1200.6 725.00Z"/>
<path d="M1200.6 725.00C1362.4 725.00 1424.0 721.61 1585.8 721.61L1585.8 721.61L1585.8 722.65L1585.8 722.65C1424.0 722.65 1362.4 726.10 1200.6 726.10Z"/>
<path d="M1200.6 726.10C1362.4 726.10 1424.0 751.90 1585.8 751.90L1585.8 751.90L1585.8 752.95L1585.8 752.95C1424.0 752.95 1362.4 727.20 1200.6 727.20Z"/>
<path d="M1200.6 727.20C1362.4 727.20 1424.0 795.48 1585.8 795.48L1585.8 795.48L1585.8 796.54L1585.8 796.54C1424.0 796.54 1362.4 728.30 1200.6 728.30Z"/>
<path d="M1200.6 735.40C1362.4 735.40 1424.0 617.83 1585.8 617.83L1585.8 617.83L1585.8 618.91L1585.8 618.91C1424.0 618.91 1362.4 736.35 1200.6 736.35Z"/>
<path d="M1200.6 736.35C1362.4 736.35 1424.0 796.54 1585.8 796.54L1585.8 796.54L1585.8 797.59L1585.8 797.59C1424.0 797.59 1362.4 737.30 1200.6 737.30Z"/>
<path d="M1200.6 744.80C1362.4 744.80 1424.0 335.15 1585.8 335.15L1585.8 335.15L1585.8 336.17L1585.8 336.17C1424.0 336.17 1362.4 745.86 1200.6 745.86Z"/>
<path d="M1200.6 745.86C1362.4 745.86 1424.0 381.89 1585.8 381.89L1585.8 381.89L1585.8 382.95L1585.8 382.95C1424.0 382.95 1362.4 746.91 1200.6 746.91Z"/>
<path d="M1200.6 746.91C1362.4 746.91 1424.0 473.54 1585.8 473.54L1585.8 473.54L1585.8 474.59L1585.8 474.59C1424.0 474.59 1362.4 747.97 1200.6 747.97Z"/>
<path d="M1200.6 747.97C1362.4 747.97 1424.0 546.94 1585.8 546.94L1585.8 546.94L1585.8 547.97L1585.8 547.97C1424.0 547.97 1362.4 749.02 1200.6 749.02Z"/>
<path d="M1200.6 749.02C1362.4 749.02 1424.0 570.61 1585.8 570.61L1585.8 570.61L1585.8 571.65L1585.8 571.65C1424.0 571.65 1362.4 750.08 1200.6 750.08Z"/>
<path d="M1200.6 750.08C1362.4 750.08 1424.0 594.87 1585.8 594.87L1585.8 594.87L1585.8 595.93L1585.8 595.93C1424.0 595.93 1362.4 751.13 1200.6 751.13Z"/>
<path d="M1200.6 751.13C1362.4 751.13 1424.0 642.41 1585.8 642.41L1585.8 642.41L1585.8 643.44L1585.8 643.44C1424.0 643.44 1362.4 752.19 1200.6 752.19Z"/>
<path d="M1200.6 752.19C1362.4 752.19 1424.0 697.89 1585.8 697.89L1585.8 697.89L1585.8 698.94L1585.8 698.94C1424.0 698.94 1362.4 753.24 1200.6 753.24Z"/>
<path d="M1200.6 753.24C1362.4 753.24 1424.0 797.59 1585.8 797.59L1585.8 797.59L1585.8 798.64L1585.8 798.64C1424.0 798.64 1362.4 754.30 1200.6 754.30Z"/>
<path d="M1200.6 760.60C1362.4 760.60 1424.0 336.17 1585.8 336.17L1585.8 336.17L1585.8 337.20L1585.8 337.20C1424.0 337.20 1362.4 761.60 1200.6 761.60Z"/>
<path d="M1200.6 761.60C1362.4 761.60 1424.0 474.59 1585.8 474.59L1585.8 474.59L1585.8 475.65L1585.8 475.65C1424.0 475.65 1362.4 762.60 1200.6 762.60Z"/>
<path d="M1200.6 762.60C1362.4 762.60 1424.0 618.91 1585.8 618.91L1585.8 618.91L1585.8 620.00L1585.8 620.00C1424.0 620.00 1362.4 763.60 1200.6 763.60Z"/>
<path d="M1200.6 763.60C1362.4 763.60 1424.0 671.39 1585.8 671.39L1585.8 671.39L1585.8 672.45L1585.8 672.45C1424.0 672.45 1362.4 764.60 1200.6 764.60Z"/>
<path d="M1200.6 764.60C1362.4 764.60 1424.0 798.64 1585.8 798.64L1585.8 798.64L1585.8 799.69L1585.8 799.69C1424.0 799.69 1362.4 765.60 1200.6 765.60Z"/>
<path d="M1200.6 772.60C1362.4 772.60 1424.0 358.42 1585.8 358.42L1585.8 358.42L1585.8 359.51L1585.8 359.51C1424.0 359.51 1362.4 773.74 1200.6 773.74Z"/>
<path d="M1200.6 773.74C1362.4 773.74 1424.0 382.95 1585.8 382.95L1585.8 382.95L1585.8 384.00L1585.8 384.00C1424.0 384.00 1362.4 774.88 1200.6 774.88Z"/>
<path d="M1200.6 774.88C1362.4 774.88 1424.0 405.98 1585.8 405.98L1585.8 405.98L1585.8 407.00L1585.8 407.00C1424.0 407.00 1362.4 776.01 1200.6 776.01Z"/>
<path d="M1200.6 776.01C1362.4 776.01 1424.0 450.88 1585.8 450.88L1585.8 450.88L1585.8 451.94L1585.8 451.94C1424.0 451.94 1362.4 777.15 1200.6 777.15Z"/>
<path d="M1200.6 777.15C1362.4 777.15 1424.0 475.65 1585.8 475.65L1585.8 475.65L1585.8 476.70L1585.8 476.70C1424.0 476.70 1362.4 778.29 1200.6 778.29Z"/>
<path d="M1200.6 778.29C1362.4 778.29 1424.0 496.37 1585.8 496.37L1585.8 496.37L1585.8 497.40L1585.8 497.40C1424.0 497.40 1362.4 779.43 1200.6 779.43Z"/>
<path d="M1200.6 779.42C1362.4 779.42 1424.0 518.93 1585.8 518.93L1585.8 518.93L1585.8 520.00L1585.8 520.00C1424.0 520.00 1362.4 780.56 1200.6 780.56Z"/>
<path d="M1200.6 780.56C1362.4 780.56 1424.0 547.97 1585.8 547.97L1585.8 547.97L1585.8 549.00L1585.8 549.00C1424.0 549.00 1362.4 781.70 1200.6 781.70Z"/>
<path d="M1200.6 781.70C1362.4 781.70 1424.0 571.65 1585.8 571.65L1585.8 571.65L1585.8 572.70L1585.8 572.70C1424.0 572.70 1362.4 782.84 1200.6 782.84Z"/>
<path d="M1200.6 782.84C1362.4 782.84 1424.0 595.93 1585.8 595.93L1585.8 595.93L1585.8 597.00L1585.8 597.00C1424.0 597.00 1362.4 783.98 1200.6 783.98Z"/>
<path d="M1200.6 783.98C1362.4 783.98 1424.0 643.44 1585.8 643.44L1585.8 643.44L1585.8 644.47L1585.8 644.47C1424.0 644.47 1362.4 785.11 1200.6 785.11Z"/>
<path d="M1200.6 785.11C1362.4 785.11 1424.0 672.45 1585.8 672.45L1585.8 672.45L1585.8 673.50L1585.8 673.50C1424.0 673.50 1362.4 786.25 1200.6 786.25Z"/>
<path d="M1200.6 786.25C1362.4 786.25 1424.0 698.94 1585.8 698.94L1585.8 698.94L1585.8 700.00L1585.8 700.00C1424.0 700.00 1362.4 787.39 1200.6 787.39Z"/>
<path d="M1200.6 787.39C1362.4 787.39 1424.0 722.65 1585.8 722.65L1585.8 722.65L1585.8 723.70L1585.8 723.70C1424.0 723.70 1362.4 788.52 1200.6 788.52Z"/>
<path d="M1200.6 788.52C1362.4 788.52 1424.0 752.95 1585.8 752.95L1585.8 752.95L1585.8 754.00L1585.8 754.00C1424.0 754.00 1362.4 789.66 1200.6 789.66Z"/>
<path d="M1200.6 789.66C1362.4 789.66 1424.0 799.69 1585.8 799.69L1585.8 799.69L1585.8 800.75L1585.8 800.75C1424.0 800.75 1362.4 790.80 1200.6 790.80Z"/>
<path d="M1200.6 798.30C1362.4 798.30 1424.0 359.51 1585.8 359.51L1585.8 359.51L1585.8 360.60L1585.8 360.60C1424.0 360.60 1362.4 799.35 1200.6 799.35Z"/>
<path d="M1200.6 799.35C1362.4 799.35 1424.0 451.94 1585.8 451.94L1585.8 451.94L1585.8 453.00L1585.8 453.00C1424.0 453.00 1362.4 800.40 1200.6 800.40Z"/>
<path d="M1200.6 800.40C1362.4 800.40 1424.0 644.47 1585.8 644.47L1585.8 644.47L1585.8 645.50L1585.8 645.50C1424.0 645.50 1362.4 801.45 1200.6 801.45Z"/>
<path d="M1200.6 801.45C1362.4 801.45 1424.0 800.75 1585.8 800.75L1585.8 800.75L1585.8 801.80L1585.8 801.80C1424.0 801.80 1362.4 802.50 1200.6 802.50Z"/>
</g>
<rect x="1181.2" y="122.1" width="19.4" height="1.2" fill="#c5b0d5"/>
<rect x="1181.2" y="130.1" width="19.4" height="1.2" fill="#2e8b57"/>
<rect x="1181.2" y="138.3" width="19.4" height="1.2" fill="#d8d0e0"/>
<rect x="1181.2" y="146.8" width="19.4" height="1.2" fill="#3f3a9c"/>
<rect x="1181.2" y="155.3" width="19.4" height="1.2" fill="#8fd08f"/>
<rect x="1181.2" y="163.3" width="19.4" height="1.2" fill="#b09080"/>
<rect x="1181.2" y="171.7" width="19.4" height="8.2" fill="#f4c626"/>
<rect x="1181.2" y="186.3" width="19.4" height="6.3" fill="#fdf3e3"/>
<rect x="1181.2" y="199.1" width="19.4" height="1.2" fill="#90d090"/>
<rect x="1181.2" y="207.6" width="19.4" height="1.2" fill="#56c5dc"/>
<rect x="1181.2" y="215.2" width="19.4" height="7.1" fill="#f6dcb6"/>
<rect x="1181.2" y="230.6" width="19.4" height="17.4" fill="#a0522d"/>
<rect x="1181.2" y="255.8" width="19.4" height="5.2" fill="#f0e838"/>
<rect x="1181.2" y="268.2" width="19.4" height="15.1" fill="#c4be78"/>
<rect x="1181.2" y="290.6" width="19.4" height="13.4" fill="#9acd4c"/>
<rect x="1181.2" y="311.3" width="19.4" height="4.7" fill="#5fc091"/>
<rect x="1181.2" y="323.1" width="19.4" height="15.8" fill="#6f94dc"/>
<rect x="1181.2" y="346.8" width="19.4" height="2.2" fill="#4cb82e"/>
<rect x="1181.2" y="355.8" width="19.4" height="2.0" fill="#17691c"/>
<rect x="1181.2" y="364.8" width="19.4" height="11.8" fill="#5f9f9f"/>
<rect x="1181.2" y="384.0" width="19.4" height="6.7" fill="#2cc1c9"/>
<rect x="1181.2" y="397.3" width="19.4" height="4.7" fill="#add8e8"/>
<rect x="1181.2" y="408.9" width="19.4" height="2.5" fill="#7cc4e4"/>
<rect x="1181.2" y="419.5" width="19.4" height="2.5" fill="#2078c8"/>
<rect x="1181.2" y="428.9" width="19.4" height="8.5" fill="#2040a8"/>
<rect x="1181.2" y="444.4" width="19.4" height="10.4" fill="#1c2680"/>
<rect x="1181.2" y="461.9" width="19.4" height="10.1" fill="#3c6462"/>
<rect x="1181.2" y="480.0" width="19.4" height="1.4" fill="#e0f4f8"/>
<rect x="1181.2" y="488.7" width="19.4" height="4.3" fill="#f8dcaa"/>
<rect x="1181.2" y="500.0" width="19.4" height="2.0" fill="#faf0d2"/>
<rect x="1181.2" y="509.5" width="19.4" height="1.5" fill="#7ccde4"/>
<rect x="1181.2" y="517.7" width="19.4" height="4.7" fill="#d2d488"/>
<rect x="1181.2" y="529.0" width="19.4" height="8.0" fill="#f4b0cc"/>
<rect x="1181.2" y="543.6" width="19.4" height="9.0" fill="#c89890"/>
<rect x="1181.2" y="560.0" width="19.4" height="15.4" fill="#f49898"/>
<rect x="1181.2" y="582.5" width="19.4" height="14.5" fill="#b4c8ec"/>
<rect x="1181.2" y="604.0" width="19.4" height="10.8" fill="#28bccc"/>
<rect x="1181.2" y="622.0" width="19.4" height="2.4" fill="#cc1414"/>
<rect x="1181.2" y="632.0" width="19.4" height="12.5" fill="#38a848"/>
<rect x="1181.2" y="651.8" width="19.4" height="10.6" fill="#2c7cb8"/>
<rect x="1181.2" y="669.4" width="19.4" height="12.6" fill="#bcc038"/>
<rect x="1181.2" y="689.0" width="19.4" height="15.3" fill="#f8bc80"/>
<rect x="1181.2" y="711.8" width="19.4" height="16.5" fill="#888888"/>
<rect x="1181.2" y="735.4" width="19.4" height="1.9" fill="#d060c0"/>
<rect x="1181.2" y="744.8" width="19.4" height="9.5" fill="#d0d0d0"/>
<rect x="1181.2" y="760.6" width="19.4" height="5.0" fill="#f07c18"/>
<rect x="1181.2" y="772.6" width="19.4" height="18.2" fill="#945c54"/>
<rect x="1181.2" y="798.3" width="19.4" height="4.2" fill="#8c5cb8"/>
<rect x="1585.8" y="325.9" width="19.6" height="11.3" fill="#848484"/>
<rect x="1585.8" y="348.6" width="19.6" height="12.0" fill="#a4d890"/>
<rect x="1585.8" y="368.2" width="19.6" height="15.8" fill="#c4c030"/>
<rect x="1585.8" y="392.7" width="19.6" height="14.3" fill="#d0bce0"/>
<rect x="1585.8" y="415.3" width="19.6" height="12.4" fill="#2c80bc"/>
<rect x="1585.8" y="436.0" width="19.6" height="17.0" fill="#9870c0"/>
<rect x="1585.8" y="460.9" width="19.6" height="15.8" fill="#b0cce8"/>
<rect x="1585.8" y="485.0" width="19.6" height="12.4" fill="#38a848"/>
<rect x="1585.8" y="505.0" width="19.6" height="15.0" fill="#d44040"/>
<rect x="1585.8" y="528.4" width="19.6" height="20.6" fill="#f8a0a0"/>
<rect x="1585.8" y="557.0" width="19.6" height="15.7" fill="#dc80c0"/>
<rect x="1585.8" y="581.0" width="19.6" height="16.0" fill="#d8dc98"/>
<rect x="1585.8" y="604.8" width="19.6" height="15.2" fill="#f48c30"/>
<rect x="1585.8" y="629.0" width="19.6" height="16.5" fill="#cccccc"/>
<rect x="1585.8" y="653.5" width="19.6" height="20.0" fill="#30b8c8"/>
<rect x="1585.8" y="681.0" width="19.6" height="19.0" fill="#946058"/>
<rect x="1585.8" y="708.0" width="19.6" height="15.7" fill="#f4bcd8"/>
<rect x="1585.8" y="732.0" width="19.6" height="22.0" fill="#f8c088"/>
<rect x="1585.8" y="761.8" width="19.6" height="40.0" fill="#c49a90"/>
<g font-family="'Liberation Sans',Arial,sans-serif" font-size="11.9" text-anchor="end" fill="#000" stroke="#000" stroke-width="0.25">
<text x="1178.2" y="126.9">CHEK1</text>
<text x="1178.2" y="134.9">NOX4</text>
<text x="1178.2" y="143.1">INSR</text>
<text x="1178.2" y="151.6">MCL1</text>
<text x="1178.2" y="160.1">PCNA</text>
<text x="1178.2" y="168.1">TOP2A</text>
<text x="1178.2" y="180.0">TNF</text>
<text x="1178.2" y="193.6">ICAM1</text>
<text x="1178.2" y="203.9">CD40LG</text>
<text x="1178.2" y="212.4">NCOA1</text>
<text x="1178.2" y="222.9">VEGFA</text>
<text x="1178.2" y="243.5">TP53</text>
<text x="1178.2" y="262.6">RXRA</text>
<text x="1178.2" y="279.9">RELA</text>
<text x="1178.2" y="301.5">RB1</text>
<text x="1178.2" y="317.8">PTGS2</text>
<text x="1178.2" y="335.2">MAPK1</text>
<text x="1178.2" y="352.1">PPARG</text>
<text x="1178.2" y="361.0">NOS2</text>
<text x="1178.2" y="374.9">NFKBIA</text>
<text x="1178.2" y="391.6">MMP9</text>
<text x="1178.2" y="403.8">MMP2</text>
<text x="1178.2" y="414.3">MMP1</text>
<text x="1178.2" y="424.9">MET</text>
<text x="1178.2" y="437.3">MDM2</text>
<text x="1178.2" y="453.8">JUN</text>
<text x="1178.2" y="471.1">IL6</text>
<text x="1178.2" y="484.9">IL4</text>
<text x="1178.2" y="495.1">IL2</text>
<text x="1178.2" y="505.2">IFNG</text>
<text x="1178.2" y="514.5">HMOX1</text>
<text x="1178.2" y="524.2">GSTP1</text>
<text x="1178.2" y="537.2">ERBB2</text>
<text x="1178.2" y="552.3">EGFR</text>
<text x="1178.2" y="571.9">CDKN1A</text>
<text x="1178.2" y="594.0">CASP9</text>
<text x="1178.2" y="613.6">CASP8</text>
<text x="1178.2" y="627.4">CASP7</text>
<text x="1178.2" y="642.5">CASP3</text>
<text x="1178.2" y="661.3">BCL2L1</text>
<text x="1178.2" y="679.9">BCL2</text>
<text x="1178.2" y="700.9">CCND1</text>
<text x="1178.2" y="724.2">BAX</text>
<text x="1178.2" y="740.5">AR</text>
<text x="1178.2" y="753.8">FASLG</text>
<text x="1178.2" y="767.3">BIRC5</text>
<text x="1178.2" y="785.9">AKT1</text>
<text x="1178.2" y="804.6">ADCY2</text>
</g>
<g font-family="'Liberation Sans',Arial,sans-serif" font-size="12" text-anchor="end" fill="#000" stroke="#000" stroke-width="0.25">
<text x="1583.4" y="335.8">Hepatocellular carcinoma</text>
<text x="1583.4" y="358.9">Measles</text>
<text x="1583.4" y="380.4">Human T-cell leukemia virus 1 infection</text>
<text x="1583.4" y="404.2">Pancreatic cancer</text>
<text x="1583.4" y="425.8">AGE-RAGE signaling pathway in diabetic complications</text>
<text x="1583.4" y="448.8">Epstein-Barr virus infection</text>
<text x="1583.4" y="473.1">Kaposi sarcoma-associated herpesvirus infection</text>
<text x="1583.4" y="495.5">Bladder cancer</text>
<text x="1583.4" y="516.8">Endocrine resistance</text>
<text x="1583.4" y="543.0">PI3K-Akt signaling pathway</text>
<text x="1583.4" y="569.1">Hepatitis C</text>
<text x="1583.4" y="593.3">Small cell lung cancer</text>
<text x="1583.4" y="616.7">Apoptosis</text>
<text x="1583.4" y="641.5">Prostate cancer</text>
<text x="1583.4" y="667.8">Human cytomegalovirus infection</text>
<text x="1583.4" y="694.8">Hepatitis B</text>
<text x="1583.4" y="720.1">Platinum drug resistance</text>
<text x="1583.4" y="747.3">Lipid and atherosclerosis</text>
<text x="1583.4" y="786.1">Pathways in cancer</text>
</g>
<g fill="none" stroke="#a3141c" stroke-width="2.4">
<rect x="1419.2" y="318.2" width="185.6" height="28.4"/>
<rect x="1419.2" y="386.3" width="185.6" height="27.7"/>
<rect x="1419.2" y="475.3" width="185.6" height="28.1"/>
<rect x="1419.2" y="574.7" width="185.6" height="28.2"/>
<rect x="1419.2" y="622.3" width="185.6" height="27.6"/>
<rect x="1419.2" y="769.9" width="185.6" height="29.1"/>
</g>
<text x="1477.5" y="288.2" font-family="'Liberation Serif','Times New Roman',serif" font-weight="bold" font-style="italic" font-size="26" fill="#0a0a0a" textLength="118" lengthAdjust="spacing">Anti-tumor</text>
</g>
<g id="dotplot">
<clipPath id="dpclip"><rect x="1627" y="326" width="154.6" height="476"/></clipPath>
<g clip-path="url(#dpclip)">
<circle cx="1633.3" cy="331.6" r="2.3" fill="#ea1618" stroke="#6e2212" stroke-opacity="0.75" stroke-width="0.9"/>
<circle cx="1649" cy="352.7" r="4.4" fill="#d4311f" stroke="#6e2212" stroke-opacity="0.75" stroke-width="0.9"/>
<circle cx="1661.6" cy="376.4" r="5.3" fill="#cf3621" stroke="#6e2212" stroke-opacity="0.75" stroke-width="0.9"/>
<circle cx="1641.6" cy="399.8" r="3.0" fill="#df261c" stroke="#6e2212" stroke-opacity="0.75" stroke-width="0.9"/>
<circle cx="1645.4" cy="421.3" r="3.6" fill="#dc281d" stroke="#6e2212" stroke-opacity="0.75" stroke-width="0.9"/>
<circle cx="1661.6" cy="444.3" r="5.3" fill="#d03520" stroke="#6e2212" stroke-opacity="0.75" stroke-width="0.9"/>
<circle cx="1661.6" cy="468.8" r="5.3" fill="#d03520" stroke="#6e2212" stroke-opacity="0.75" stroke-width="0.9"/>
<circle cx="1633.3" cy="491" r="2.3" fill="#e01e1a" stroke="#6e2212" stroke-opacity="0.75" stroke-width="0.9"/>
<circle cx="1649" cy="512" r="4.3" fill="#d2331f" stroke="#6e2212" stroke-opacity="0.75" stroke-width="0.9"/>
<circle cx="1681.6" cy="538.5" r="6.6" fill="#c6422a" stroke="#6e2212" stroke-opacity="0.75" stroke-width="0.9"/>
<circle cx="1661.5" cy="565" r="4.8" fill="#cc3a22" stroke="#6e2212" stroke-opacity="0.75" stroke-width="0.9"/>
<circle cx="1649.2" cy="588.7" r="4.0" fill="#d4311f" stroke="#6e2212" stroke-opacity="0.75" stroke-width="0.9"/>
<circle cx="1661.5" cy="612.8" r="4.8" fill="#c84026" stroke="#6e2212" stroke-opacity="0.75" stroke-width="0.9"/>
<circle cx="1657.5" cy="637" r="4.5" fill="#cc3a22" stroke="#6e2212" stroke-opacity="0.75" stroke-width="0.9"/>
<circle cx="1677.6" cy="663.3" r="5.9" fill="#c04e2a" stroke="#6e2212" stroke-opacity="0.75" stroke-width="0.9"/>
<circle cx="1669.2" cy="690.2" r="5.6" fill="#b85a2c" stroke="#6e2212" stroke-opacity="0.75" stroke-width="0.9"/>
<circle cx="1657.5" cy="716" r="4.5" fill="#c24c28" stroke="#6e2212" stroke-opacity="0.75" stroke-width="0.9"/>
<circle cx="1685.6" cy="743" r="6.6" fill="#8a7a2c" stroke="#6e2212" stroke-opacity="0.75" stroke-width="0.9"/>
<circle cx="1773.9" cy="782" r="12" fill="#66b82a"/>
</g>
<rect x="1627" y="326.2" width="154.2" height="476" fill="none" stroke="#111" stroke-width="1.2"/>
<g font-family="'Liberation Sans',Arial,sans-serif" fill="#000">
<line x1="1653.5" y1="802" x2="1653.5" y2="805" stroke="#222" stroke-width="1"/>
<text x="1653.5" y="820" font-size="13" text-anchor="middle">0.2</text>
<line x1="1693.5" y1="802" x2="1693.5" y2="805" stroke="#222" stroke-width="1"/>
<text x="1693.5" y="820" font-size="13" text-anchor="middle">0.3</text>
<line x1="1733.5" y1="802" x2="1733.5" y2="805" stroke="#222" stroke-width="1"/>
<text x="1733.5" y="820" font-size="13" text-anchor="middle">0.4</text>
<line x1="1773.5" y1="802" x2="1773.5" y2="805" stroke="#222" stroke-width="1"/>
<text x="1773.5" y="820" font-size="13" text-anchor="middle">0.5</text>
<text x="1703.5" y="839" font-size="16" text-anchor="middle">Gene.Ratio</text>
<defs><linearGradient id="cb" x1="0" y1="0" x2="0" y2="1"><stop offset="0" stop-color="#74d23c"/><stop offset="0.12" stop-color="#4cc02c"/><stop offset="0.3" stop-color="#3ea62a"/><stop offset="0.45" stop-color="#6d8a28"/><stop offset="0.6" stop-color="#96662a"/><stop offset="0.76" stop-color="#c2402a"/><stop offset="1" stop-color="#f4181c"/></linearGradient></defs>
<rect x="1796.6" y="377.6" width="6.8" height="149" fill="url(#cb)" stroke="#3c3c2c" stroke-width="0.5"/>
<line x1="1803.4" y1="409" x2="1806" y2="409" stroke="#222" stroke-width="1"/>
<text x="1809" y="413.6" font-size="13">40</text>
<line x1="1803.4" y1="454.5" x2="1806" y2="454.5" stroke="#222" stroke-width="1"/>
<text x="1809" y="459.1" font-size="13">30</text>
<line x1="1803.4" y1="499.7" x2="1806" y2="499.7" stroke="#222" stroke-width="1"/>
<text x="1809" y="504.3" font-size="13">20</text>
<text x="1799.5" y="370" font-size="15.5">-log<tspan font-size="10.6" dy="3">10</tspan><tspan dy="-3">(Pvalue)</tspan></text>
<text x="1818" y="652.5" font-size="15">Count</text>
<circle cx="1811.4" cy="672.4" r="2.8" fill="#000"/>
<text x="1830" y="676.4" font-size="11.5">12</text>
<circle cx="1811.4" cy="693.9" r="5.0" fill="#000"/>
<text x="1830" y="697.9" font-size="11.5">18</text>
<circle cx="1811.4" cy="715.3" r="7.3" fill="#000"/>
<text x="1830" y="719.3" font-size="11.5">25</text>
<circle cx="1811.4" cy="736.8" r="9.2" fill="#000"/>
<text x="1830" y="740.8" font-size="11.5">32</text>
</g></g>
<g id="plant">
<defs><clipPath id="pcr"><rect x="790" y="60" width="317.6" height="320"/></clipPath><clipPath id="pc"><ellipse cx="952" cy="217" rx="154.5" ry="145.5" clip-path="url(#pcr)"/></clipPath>
<radialGradient id="pbg" cx="0.5" cy="0.5" r="0.5"><stop offset="0" stop-color="#f9f9f7"/><stop offset="1" stop-color="#f6f5f3"/></radialGradient>
<linearGradient id="lf1" x1="0" y1="0" x2="0" y2="1"><stop offset="0" stop-color="#5fae4a"/><stop offset="1" stop-color="#2f7d34"/></linearGradient>
<linearGradient id="fl1" x1="0" y1="0" x2="1" y2="1"><stop offset="0" stop-color="#b9a6de"/><stop offset="0.6" stop-color="#cdbfe8"/><stop offset="1" stop-color="#a992d4"/></linearGradient>
</defs>
<ellipse cx="952" cy="217" rx="154.5" ry="145.5" fill="url(#pbg)" clip-path="url(#pcr)"/>
<g clip-path="url(#pc)">
<g transform="translate(790 60) scale(0.2)">
<g fill="none" stroke-linecap="round">
<path d="M852 800 L856 520 C855 420 845 330 815 250 C800 215 780 195 745 195" stroke="#8cc273" stroke-width="19"/>
<path d="M870 590 C920 520 970 460 1005 395" stroke="#86b870" stroke-width="9"/>
<path d="M850 995 C760 880 620 740 530 590" stroke="#86b870" stroke-width="8"/>
<path d="M700 790 C640 740 590 700 560 690" stroke="#86b870" stroke-width="7"/>
<path d="M720 800 C730 760 760 735 790 728" stroke="#86b870" stroke-width="8"/>
</g>
<path d="M430 588 C520 590 640 600 700 625 C760 655 790 700 800 735 C740 735 690 720 640 690 C580 650 520 610 430 588Z" fill="#d5e8c4"/>
<path d="M560 600 C640 605 720 625 770 680 C790 705 798 720 800 735 C770 690 700 640 560 600Z" fill="#3f9443"/>
<path d="M1000 655 C1110 620 1260 610 1385 615 C1300 670 1180 740 1060 765 C1030 745 1010 700 1000 655Z" fill="url(#lf1)"/>
<path d="M888 592 C930 560 1000 545 1058 548 C1010 580 950 600 888 592Z" fill="#4fa046"/>
<path d="M355 195 C440 150 520 150 540 150 C530 120 560 100 612 93 C640 150 660 190 700 215 C740 250 760 290 770 312 C740 320 720 340 715 385 C660 370 620 330 600 280 C540 320 460 330 390 322 C400 270 430 230 470 215 C430 200 390 200 355 195Z" fill="url(#fl1)"/>
<path d="M600 280 C620 250 650 240 690 235" stroke="#9a86c4" stroke-width="5" fill="none"/>
<path d="M880 262 C960 265 1080 290 1212 292 C1200 330 1120 350 1040 375 C1020 385 1000 385 990 375 C960 340 920 300 880 262Z" fill="#c0a0d4"/>
<path d="M920 280 C990 300 1060 300 1100 290 C1060 275 1000 270 920 280Z" fill="#dcc4e6"/>
<path d="M985 375 C1000 395 1030 395 1045 372 C1020 380 1005 380 985 375Z" fill="#8cb070"/>
<path d="M545 435 C610 420 680 420 720 400 C730 380 735 365 742 352 C780 390 830 400 870 395 C890 385 905 370 912 358 C915 410 905 450 870 480 C860 490 850 495 860 492 C800 500 700 500 622 512 C650 490 670 470 690 460 C640 455 590 450 545 435Z" fill="#dccfee"/>
<path d="M860 492 C830 470 800 450 770 440 C810 440 850 450 875 470Z" fill="#b9a6de"/>
<path d="M760 620 C830 625 880 640 920 650 C940 620 970 600 1002 590 C1000 630 1000 660 1010 680 C1060 670 1100 680 1140 692 C1100 720 1060 740 1020 750 C1050 780 1060 810 1062 840 C1000 835 960 815 930 790 C915 800 905 805 895 805 C870 760 850 720 830 690 C810 660 790 640 760 620Z" fill="url(#fl1)"/>
<path d="M850 700 C900 690 950 700 1000 720" stroke="#e6def4" stroke-width="8" fill="none"/>
<ellipse cx="480" cy="542" rx="60" ry="36" fill="#7bb95a"/><ellipse cx="462" cy="502" rx="18" ry="14" fill="#6fa552"/>
<ellipse cx="515" cy="677" rx="52" ry="26" fill="#8aa852"/><path d="M450 645 L520 632" stroke="#3a2a1a" stroke-width="9"/>
<path d="M370 865C378 853 453 849 500 850C547 851 608 859 650 870C692 881 722 896 750 915C778 934 805 968 820 985C835 1002 848 1011 840 1018C832 1025 798 1028 770 1028C742 1028 707 1028 670 1020C633 1012 587 997 550 980C513 963 480 939 450 920C420 901 362 877 370 865Z" fill="url(#lf1)" stroke="#2c7a30" stroke-width="4"/>
<path d="M880 1015C880 1001 918 960 950 940C982 920 1020 906 1070 895C1120 884 1199 878 1250 875C1301 872 1367 867 1375 878C1383 889 1329 921 1300 940C1271 959 1242 977 1200 990C1158 1003 1092 1014 1050 1020C1008 1026 978 1026 950 1025C922 1024 880 1029 880 1015Z" fill="url(#lf1)" stroke="#2c7a30" stroke-width="4"/>
<path d="M380 1120C397 1112 497 1122 550 1130C603 1138 658 1155 700 1170C742 1185 773 1199 800 1220C827 1241 862 1282 860 1295C858 1308 822 1301 790 1300C758 1299 710 1298 670 1290C630 1282 587 1268 550 1250C513 1232 478 1202 450 1180C422 1158 363 1128 380 1120Z" fill="url(#lf1)" stroke="#2c7a30" stroke-width="4"/>
<path d="M915 1290C918 1275 939 1232 970 1210C1001 1188 1053 1166 1100 1155C1147 1144 1208 1142 1250 1145C1292 1148 1347 1158 1355 1172C1363 1186 1326 1213 1300 1230C1274 1247 1242 1263 1200 1275C1158 1287 1092 1296 1050 1300C1008 1304 972 1302 950 1300C928 1298 912 1305 915 1290Z" fill="url(#lf1)" stroke="#2c7a30" stroke-width="4"/>
<g stroke="#8ed48a" stroke-width="5" fill="none" stroke-linecap="round">
<path d="M390 872 L835 1012"/>
<path d="M1360 885 L890 1012"/>
<path d="M400 1128 L855 1290"/>
<path d="M1340 1175 L922 1288"/>
</g>
<path d="M850 790 L856 1020 L875 1290 L900 1505" stroke="#6aa860" stroke-width="30" fill="none" stroke-linejoin="round"/>
<path d="M850 790 L856 1020 L875 1290 L900 1505" stroke="#a4d492" stroke-width="20" fill="none" stroke-linejoin="round"/>
<path d="M345 1360 L435 1375 M425 1410 C500 1390 560 1382 645 1385" stroke="#e09a40" stroke-width="14" fill="none" stroke-linecap="round"/>
</g></g></g>
<g font-family="'Liberation Serif','Times New Roman',serif" font-weight="bold" font-style="italic" font-size="26" fill="#0a0a0a">
<text x="860.5" y="405.3" textLength="215" lengthAdjust="spacing">Active ingredient of</text>
<text x="821.2" y="437" textLength="286.5" lengthAdjust="spacing">Platycodon grandiflorum</text>
</g>
<path d="M832.5 459 L1024 459 L1024 447.4 L1056 470.2 L1024 493.2 L1024 482 L832.5 482 Z" fill="#f2b420" stroke="#2f5597" stroke-width="1.2" stroke-linejoin="miter"/>
<g font-family="'Liberation Sans',Arial,sans-serif" font-weight="normal" fill="#000" stroke="#000" stroke-width="2.8" stroke-linejoin="round" stroke-linecap="round" font-size="56">
<text x="9.3" y="72.1" font-size="60">A</text>
<text transform="translate(1086.3 48) scale(1.12 1)" x="0" y="0" font-size="58">B</text>
</g>
<g id="organs">
<rect x="807.7" y="500.7" width="277.3" height="311.1" fill="none" stroke="#2f62a8" stroke-width="1.6" stroke-dasharray="1.5 1.5"/>
<ellipse cx="837.7" cy="543" rx="28.2" ry="30.5" fill="#fff" stroke="#6fbfe8" stroke-width="1.1"/>
<ellipse cx="837.7" cy="663" rx="28.2" ry="30.5" fill="#fff" stroke="#6fbfe8" stroke-width="1.1"/>
<ellipse cx="837.7" cy="777.5" rx="28.2" ry="30.5" fill="#fff" stroke="#6fbfe8" stroke-width="1.1"/>
<ellipse cx="1054.5" cy="543" rx="28.2" ry="30.5" fill="#fff" stroke="#6fbfe8" stroke-width="1.1"/>
<ellipse cx="1054.8" cy="662.5" rx="28.2" ry="30.5" fill="#fff" stroke="#6fbfe8" stroke-width="1.1"/>
<ellipse cx="1055.2" cy="780.6" rx="28.2" ry="30.5" fill="#fff" stroke="#6fbfe8" stroke-width="1.1"/>
<path d="M822.7 525.8C825.5 524.7 830.9 525.1 835.1 525.3C839.2 525.6 843.1 526.3 847.4 527.1C851.8 527.9 860.6 528.3 861.1 530.2C861.7 532.1 854.4 535.9 851.0 538.6C847.5 541.3 843.6 543.9 840.4 546.6C837.1 549.2 834.5 551.9 831.5 554.5C828.6 557.2 824.9 561.3 822.7 562.5C820.5 563.7 819.3 564.5 818.3 561.6C817.2 558.6 816.5 549.8 816.5 544.8C816.5 539.8 817.2 534.7 818.3 531.5C819.3 528.4 819.9 526.8 822.7 525.8Z" fill="#6e3f4c" stroke="#5a2f3a" stroke-width="0.8"/>
<path d="M824.0 528.0C826.4 527.1 831.0 526.8 834.2 527.1C837.3 527.4 842.3 528.1 843.0 529.8C843.8 531.4 840.8 534.6 838.6 536.8C836.4 539.0 832.1 540.1 829.8 543.0C827.4 546.0 826.2 552.0 824.5 554.5C822.7 557.0 820.2 559.7 819.1 558.1C818.1 556.4 818.1 549.1 818.3 544.8C818.4 540.5 819.1 535.2 820.0 532.4C821.0 529.6 821.7 528.9 824.0 528.0Z" fill="#94656e"/>
<path d="M819.1 651.5C819.3 649.5 820.5 646.7 821.8 645.3C823.1 643.9 824.9 643.1 827.1 643.1C829.3 643.2 832.3 644.5 835.1 645.8C837.9 647.0 842.0 649.4 843.9 650.6C845.8 651.9 847.1 652.4 846.6 653.3C846.0 654.2 843.6 654.8 840.4 655.9C837.1 657.1 830.3 659.6 827.1 659.9C823.9 660.2 822.2 659.1 820.9 657.7C819.6 656.3 819.0 653.6 819.1 651.5Z" fill="#6aaa35" stroke="#3f7a1c" stroke-width="0.9"/>
<path d="M846.6 646.2C846.7 647.0 847.1 649.3 847.4 650.6C847.7 652.0 847.7 651.8 848.3 654.2C848.9 656.5 850.5 659.7 851.0 664.8C851.4 669.9 851.0 681.4 851.0 684.7" fill="none" stroke="#3f7a1c" stroke-width="3.6" stroke-linecap="round"/>
<path d="M846.6 646.2C846.7 647.0 847.1 649.3 847.4 650.6C847.7 652.0 847.7 651.8 848.3 654.2C848.9 656.5 850.5 659.7 851.0 664.8C851.4 669.9 851.0 681.4 851.0 684.7" fill="none" stroke="#6aaa35" stroke-width="2" stroke-linecap="round"/>
<path d="M830.6 759.1C830.8 757.9 833.3 756.8 834.2 757.8C835.1 758.9 834.9 765.3 835.9 765.3C837.0 765.4 838.5 760.1 840.4 758.3C842.3 756.4 845.1 754.1 847.4 754.3C849.8 754.4 853.0 756.3 854.5 759.1C856.0 762.0 856.6 767.3 856.3 771.5C856.0 775.8 854.7 780.8 852.7 784.8C850.8 788.8 847.6 792.9 844.8 795.4C842.0 797.9 838.9 799.7 835.9 799.8C833.0 800.0 829.9 797.8 827.1 796.3C824.3 794.8 820.8 792.6 819.1 791.0C817.5 789.4 816.8 787.4 817.4 786.6C818.0 785.7 820.5 785.7 822.7 785.7C824.9 785.7 828.7 787.4 830.6 786.6C832.6 785.7 833.4 782.9 834.2 780.4C834.9 777.9 835.2 774.0 835.1 771.5C834.9 769.0 834.0 767.4 833.3 765.3C832.6 763.3 830.5 760.4 830.6 759.1Z" fill="#eeb6c6" stroke="#7a4a55" stroke-width="0.9"/>
<rect x="830.2" y="757.4" width="4.2" height="2.2" fill="#1a1a1a" transform="rotate(-18 832.0 758.7)"/>
<path d="M1045.6 554.5C1044.9 553.3 1042.0 551.3 1041.2 547.4C1040.4 543.6 1040.6 535.4 1040.8 531.5C1040.9 527.7 1041.1 525.3 1042.1 524.5C1043.1 523.6 1044.6 525.2 1046.5 526.2C1048.4 527.3 1051.2 530.2 1053.6 530.6C1056.0 531.1 1058.8 530.5 1060.7 528.9C1062.6 527.3 1063.9 522.5 1065.1 520.9C1066.3 519.3 1067.3 518.1 1067.7 519.1C1068.2 520.2 1067.5 523.6 1067.7 527.1C1068.0 530.6 1069.2 536.7 1069.5 540.4C1069.8 544.1 1070.4 546.6 1069.5 549.2C1068.6 551.9 1066.1 555.3 1064.2 556.3C1062.3 557.3 1059.5 555.1 1058.0 555.4C1056.5 555.7 1056.0 556.4 1055.4 558.1C1054.8 559.7 1054.5 563.1 1054.5 565.1C1054.5 567.2 1055.2 569.5 1055.4 570.4" fill="none" stroke="#a87a6c" stroke-width="5" stroke-linecap="round" stroke-linejoin="round"/>
<path d="M1045.6 554.5C1044.9 553.3 1042.0 551.3 1041.2 547.4C1040.4 543.6 1040.6 535.4 1040.8 531.5C1040.9 527.7 1041.1 525.3 1042.1 524.5C1043.1 523.6 1044.6 525.2 1046.5 526.2C1048.4 527.3 1051.2 530.2 1053.6 530.6C1056.0 531.1 1058.8 530.5 1060.7 528.9C1062.6 527.3 1063.9 522.5 1065.1 520.9C1066.3 519.3 1067.3 518.1 1067.7 519.1C1068.2 520.2 1067.5 523.6 1067.7 527.1C1068.0 530.6 1069.2 536.7 1069.5 540.4C1069.8 544.1 1070.4 546.6 1069.5 549.2C1068.6 551.9 1066.1 555.3 1064.2 556.3C1062.3 557.3 1059.5 555.1 1058.0 555.4C1056.5 555.7 1056.0 556.4 1055.4 558.1C1054.8 559.7 1054.5 563.1 1054.5 565.1C1054.5 567.2 1055.2 569.5 1055.4 570.4" fill="none" stroke="#f3d9ce" stroke-width="3.4" stroke-linecap="round" stroke-linejoin="round"/>
<rect x="1052.6" y="639.9" width="4.1" height="47.1" fill="#e9b6be" stroke="#6a4048" stroke-width="0.8"/><rect x="1052.4" y="639.5" width="4.5" height="1.8" fill="#2a1a1e"/>
<path d="M1036.1 781.1C1038.0 779.2 1041.0 775.7 1045.2 774.2C1049.5 772.7 1056.3 772.8 1061.3 771.9C1066.3 770.9 1071.8 768.8 1075.1 768.4C1078.3 768.1 1080.0 769.1 1080.8 770.1C1081.7 771.0 1082.6 772.0 1080.1 774.2C1077.6 776.4 1069.6 781.1 1065.9 783.4C1062.2 785.7 1059.8 785.9 1057.9 788.0C1056.0 790.1 1056.9 794.3 1054.4 796.0C1051.9 797.7 1046.2 798.9 1043.0 798.3C1039.7 797.7 1036.4 794.7 1034.9 792.5C1033.4 790.4 1033.6 787.6 1033.8 785.7C1034.0 783.7 1034.2 783.0 1036.1 781.1Z" fill="#f2dc9e" stroke="#9a8050" stroke-width="0.9"/>
<g transform="translate(880 505) scale(0.3358)">
<g fill="#ece9e4" stroke="#ece9e4" stroke-width="2" stroke-linejoin="round">
<path d="M165 60 C165 30 185 22 202 22 C225 22 242 42 240 72 C238 95 228 108 222 114 L224 142 L180 142 L182 122 C170 122 160 118 158 108 L152 100 L158 90 C158 80 162 70 165 60Z"/>
<path d="M180 140 L224 140 C240 160 270 165 288 185 C296 230 285 290 270 330 C270 360 282 390 282 420 C282 480 272 560 268 600 C270 660 262 730 260 780 L285 802 L284 812 L236 812 L238 780 C232 720 226 660 226 600 C220 540 208 470 203 425 C198 470 196 540 194 600 C192 660 170 730 166 780 L164 810 L120 810 L122 800 L142 780 C140 720 142 660 146 600 C138 540 128 480 128 420 C128 390 140 360 140 330 C125 290 112 230 118 185 C135 165 165 160 180 140Z"/>
<path d="M118 182 C100 200 95 260 86 300 C75 340 60 370 48 400 L28 440 L24 470 L40 462 L52 446 L68 410 C90 370 108 330 116 300 L128 240Z"/>
<path d="M288 182 C306 200 310 260 316 300 C326 340 338 370 348 400 L368 440 L374 470 L358 462 L346 446 L330 410 C312 370 298 330 290 300 L280 240Z"/>
</g>
<ellipse cx="200" cy="66" rx="24" ry="20" fill="#b4d9f0"/><path d="M188 66 C190 54 208 52 212 62 C214 72 204 78 198 72" fill="none" stroke="#7ebce4" stroke-width="5"/>
<rect x="190" y="122" width="14" height="16" rx="5" fill="#4aa3d5"/>
<path d="M192 138 L200 138 L200 200 L192 200Z" fill="#4aa3d5"/>
<path d="M145 200 C150 172 180 165 188 185 L190 262 C168 266 148 258 142 240Z" fill="#4aa3d5"/>
<path d="M206 185 C212 165 240 170 248 198 L250 240 C244 258 226 266 206 262Z" fill="#58addb"/>
<path d="M186 205 C196 195 210 200 212 215 L218 250 C205 262 190 260 182 250Z" fill="#3690c4"/>
<path d="M146 275 C170 262 215 262 240 278 C238 300 215 312 188 306 C165 305 148 296 146 275Z" fill="#3a98cc"/>
<path d="M160 316 L240 316 C252 318 252 340 248 352 L248 396 L232 396 L232 336 L172 336 L172 396 L158 396Z" fill="#49a2d6"/>
<rect x="174" y="340" width="56" height="52" rx="10" fill="#cfe6f4"/>
<path d="M148 250 C140 290 142 340 156 396" fill="none" stroke="#3d9bd0" stroke-width="9" stroke-dasharray="8 3"/>
<path d="M150 440 C140 480 146 540 164 585 C172 540 170 480 160 440Z" fill="#2f8dc6"/>
<path d="M215 395 C225 375 262 378 262 405 C262 425 245 428 244 440 L248 600 L252 745 L240 745 L236 600 L230 440 C215 430 208 410 215 395Z" fill="#8fc6ea"/>
<circle cx="243" cy="603" r="13" fill="#5fb0de"/><path d="M244 620 L248 740" stroke="#5fb0de" stroke-width="6"/>
<path d="M140 215 C120 260 105 320 60 415 M130 230 C112 290 90 350 46 425 M160 400 C150 470 150 540 160 600 C150 680 146 740 140 800 M176 420 C182 500 170 560 166 620 C160 700 156 760 150 800" fill="none" stroke="#6fb6e0" stroke-width="3.5" stroke-dasharray="7 4"/>
</g></g>
</svg>
</body></html>
